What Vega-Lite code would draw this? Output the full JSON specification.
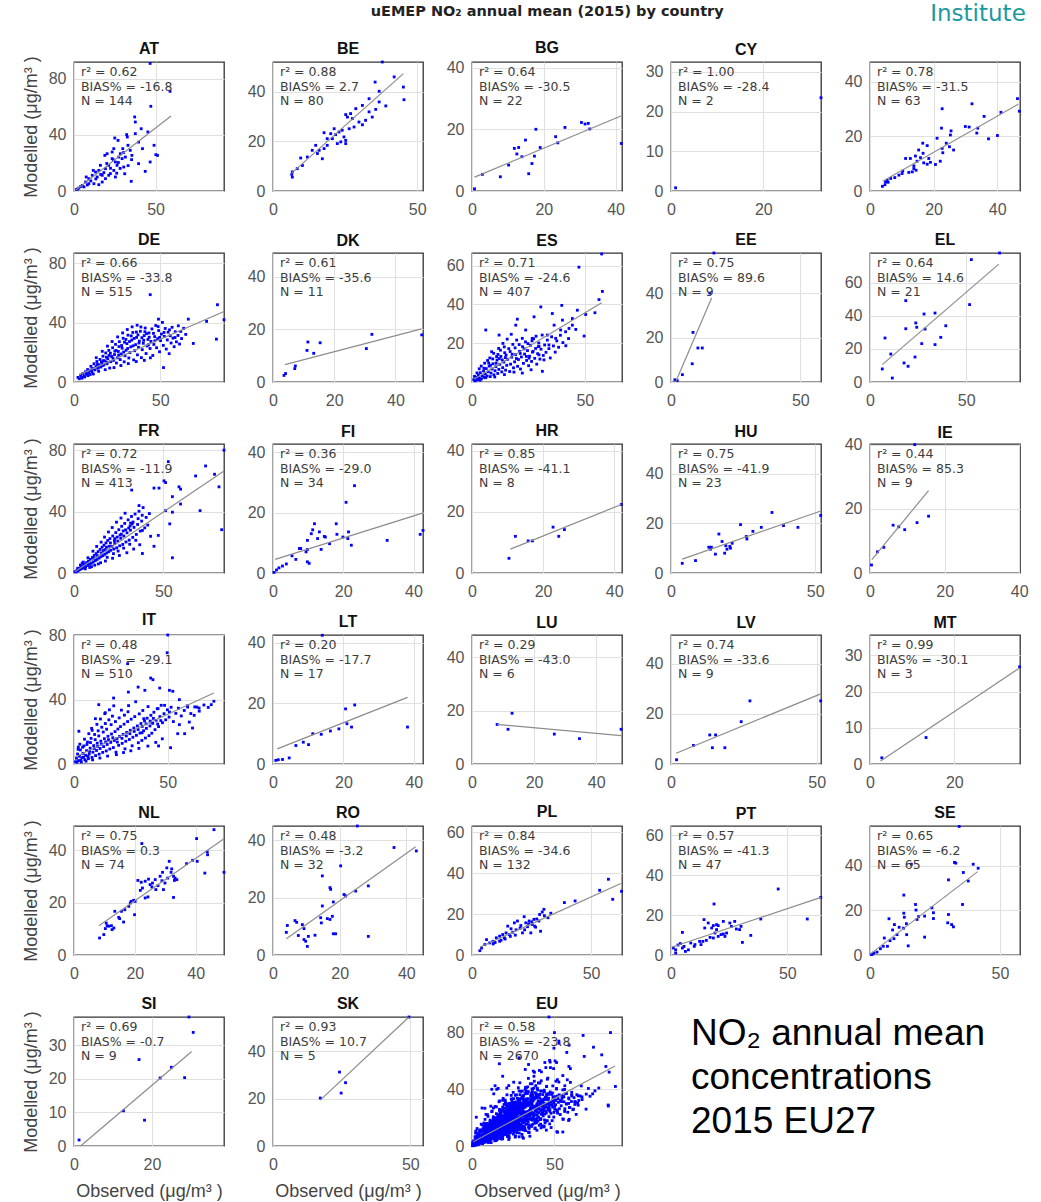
{
"$schema":"https://vega.github.io/schema/vega-lite/v6.json",
"padding":{"left":21,"top":2,"right":5,"bottom":2},
"title":{"text":"uEMEP NO₂ annual mean (2015) by country","fontSize":14.5,"fontWeight":"bold","anchor":"middle","font":"DejaVu Sans","color":"#222","offset":-17,"dx":22},
"datasets":{
"fit":[
{"c":"AT","x1":1,"y1":0.5,"x2":59.5,"y2":53.5,"lab":"r²  = 0.62\nBIAS% = -16.8\nN  = 144"},
{"c":"BE","x1":6.3,"y1":7,"x2":45.2,"y2":47.3,"lab":"r²  = 0.88\nBIAS% = 2.7\nN  = 80"},
{"c":"BG","x1":0.7,"y1":4.5,"x2":41.5,"y2":24.3,"lab":"r²  = 0.64\nBIAS% = -30.5\nN  = 22"},
{"c":"CY","lab":"r²  = 1.00\nBIAS% = -28.4\nN  = 2"},
{"c":"CZ","x1":4,"y1":3.6,"x2":46.7,"y2":31.8,"lab":"r²  = 0.78\nBIAS% = -31.5\nN  = 63"},
{"c":"DE","x1":3,"y1":5,"x2":87,"y2":47.5,"lab":"r²  = 0.66\nBIAS% = -33.8\nN  = 515"},
{"c":"DK","x1":3.9,"y1":6.6,"x2":48.5,"y2":20.2,"lab":"r²  = 0.61\nBIAS% = -35.6\nN  = 11"},
{"c":"ES","x1":1,"y1":1.5,"x2":57.5,"y2":40.8,"lab":"r²  = 0.71\nBIAS% = -24.6\nN  = 407"},
{"c":"EE","x1":1.8,"y1":0,"x2":15.7,"y2":37.8,"lab":"r²  = 0.75\nBIAS% = 89.6\nN  = 9"},
{"c":"EL","x1":6.4,"y1":10.5,"x2":67,"y2":71.3,"lab":"r²  = 0.64\nBIAS% = 14.6\nN  = 21"},
{"c":"FR","x1":0.5,"y1":0.8,"x2":84,"y2":66.4,"lab":"r²  = 0.72\nBIAS% = -11.9\nN  = 413"},
{"c":"FI","x1":0.6,"y1":4.5,"x2":43,"y2":20,"lab":"r²  = 0.36\nBIAS% = -29.0\nN  = 34"},
{"c":"HR","x1":10.8,"y1":7.8,"x2":42,"y2":22.4,"lab":"r²  = 0.85\nBIAS% = -41.1\nN  = 8"},
{"c":"HU","x1":3.9,"y1":5.6,"x2":51.7,"y2":24.9,"lab":"r²  = 0.75\nBIAS% = -41.9\nN  = 23"},
{"c":"IE","x1":0.5,"y1":4.2,"x2":15.7,"y2":25.7,"lab":"r²  = 0.44\nBIAS% = 85.3\nN  = 9"},
{"c":"IT","x1":0.5,"y1":4.3,"x2":74.6,"y2":44,"lab":"r²  = 0.48\nBIAS% = -29.1\nN  = 510"},
{"c":"LT","x1":1.2,"y1":5,"x2":38.2,"y2":22,"lab":"r²  = 0.20\nBIAS% = -17.7\nN  = 17"},
{"c":"LU","x1":8.1,"y1":14.8,"x2":48,"y2":10.6,"lab":"r²  = 0.29\nBIAS% = -43.0\nN  = 6"},
{"c":"LV","x1":1.8,"y1":4.3,"x2":51.4,"y2":28,"lab":"r²  = 0.74\nBIAS% = -33.6\nN  = 9"},
{"c":"MT","x1":2.5,"y1":0.8,"x2":35.5,"y2":26.5,"lab":"r²  = 0.99\nBIAS% = -30.1\nN  = 3"},
{"c":"NL","x1":8.2,"y1":11.2,"x2":49.3,"y2":44.4,"lab":"r²  = 0.75\nBIAS% = 0.3\nN  = 74"},
{"c":"RO","x1":4,"y1":5.7,"x2":42.8,"y2":37.8,"lab":"r²  = 0.48\nBIAS% = -3.2\nN  = 32"},
{"c":"PL","x1":3.3,"y1":3.8,"x2":62.5,"y2":34.9,"lab":"r²  = 0.84\nBIAS% = -34.6\nN  = 132"},
{"c":"PT","x1":0.3,"y1":3.9,"x2":64.5,"y2":28.8,"lab":"r²  = 0.57\nBIAS% = -41.3\nN  = 47"},
{"c":"SE","x1":0.2,"y1":0.5,"x2":41.4,"y2":37.3,"lab":"r²  = 0.65\nBIAS% = -6.2\nN  = 65"},
{"c":"SI","x1":1.7,"y1":0,"x2":30.2,"y2":28.2,"lab":"r²  = 0.69\nBIAS% = -0.7\nN  = 9"},
{"c":"SK","x1":17.2,"y1":19.4,"x2":49.4,"y2":54.5,"lab":"r²  = 0.93\nBIAS% = 10.7\nN  = 5"},
{"c":"EU","x1":0.8,"y1":3,"x2":86.8,"y2":56.4,"lab":"r²  = 0.58\nBIAS% = -23.8\nN  = 2670"}
],
"pts":[
{"c":"AT","o":46.7,"m":91},{"c":"AT","o":58.9,"m":71.1},{"c":"AT","o":47.1,"m":60.4},{"c":"AT","o":37.2,"m":52.8},{"c":"AT","o":37.6,"m":49.2},{"c":"AT","o":41.2,"m":44.4},{"c":"AT","o":45.3,"m":42.1},{"c":"AT","o":32.3,"m":40.2},{"c":"AT","o":32.7,"m":38.5},{"c":"AT","o":25,"m":37.8},{"c":"AT","o":27,"m":36.1},{"c":"AT","o":37.6,"m":40.9},{"c":"AT","o":39.6,"m":34.9},{"c":"AT","o":49.1,"m":32.6},{"c":"AT","o":42,"m":30.2},{"c":"AT","o":29.9,"m":30.2},{"c":"AT","o":24.4,"m":30.2},{"c":"AT","o":50.2,"m":25.9},{"c":"AT","o":51.2,"m":25.4},{"c":"AT","o":46.7,"m":20.7},{"c":"AT","o":39.6,"m":19.5},{"c":"AT","o":35.5,"m":25.4},{"c":"AT","o":30.5,"m":17.1},{"c":"AT","o":35.1,"m":6.9},{"c":"AT","o":43.7,"m":14},{"c":"AT","o":18.9,"m":25.4},{"c":"AT","o":20.3,"m":26.6},{"c":"AT","o":23.4,"m":23.1},{"c":"AT","o":25.4,"m":20.7},{"c":"AT","o":27.4,"m":24.2},{"c":"AT","o":21.3,"m":18.3},{"c":"AT","o":19.3,"m":15.9},{"c":"AT","o":15.2,"m":14.7},{"c":"AT","o":13.2,"m":13.5},{"c":"AT","o":17.3,"m":11.2},{"c":"AT","o":11.2,"m":11.2},{"c":"AT","o":9.1,"m":8.8},{"c":"AT","o":7.1,"m":6.4},{"c":"AT","o":5.1,"m":4},{"c":"AT","o":3,"m":2.1},{"c":"AT","o":1.4,"m":1},{"c":"AT","o":12.2,"m":5.2},{"c":"AT","o":15.2,"m":4.5},{"c":"AT","o":19.3,"m":8.8},{"c":"AT","o":22.3,"m":12.4},{"c":"AT","o":24.4,"m":14.7},{"c":"AT","o":26.4,"m":18.3},{"c":"AT","o":29.5,"m":23.1},{"c":"AT","o":28.4,"m":26.6},{"c":"AT","o":23.4,"m":27.8},{"c":"AT","o":14.2,"m":10},{"c":"AT","o":9.1,"m":5.2},{"c":"AT","o":6.1,"m":2.9},{"c":"AT","o":17.3,"m":6.4},{"c":"AT","o":21.3,"m":11.2},{"c":"AT","o":25.4,"m":10},{"c":"AT","o":31.5,"m":24.2},{"c":"AT","o":34.5,"m":29},{"c":"AT","o":16.2,"m":18.3},{"c":"AT","o":11.8,"m":14.7},{"c":"AT","o":7.5,"m":10},{"c":"AT","o":20.1,"m":19.6},{"c":"AT","o":22.4,"m":16.2},{"c":"AT","o":18.3,"m":13.1},{"c":"AT","o":16.4,"m":11.8},{"c":"AT","o":27.2,"m":20.3},{"c":"AT","o":30.4,"m":27.4},{"c":"AT","o":33.1,"m":32.6},{"c":"AT","o":28.3,"m":16.1},{"c":"AT","o":26.2,"m":12.7},{"c":"AT","o":24.1,"m":22.2},{"c":"AT","o":13.4,"m":8.6},{"c":"AT","o":10.3,"m":7.2},{"c":"AT","o":8.2,"m":4.3},{"c":"AT","o":4.1,"m":3.2},{"c":"AT","o":2.2,"m":1.4},{"c":"AT","o":35.3,"m":22.4},{"c":"AT","o":33.2,"m":18.1},{"c":"AT","o":31.1,"m":12.3},
{"c":"BE","o":37.9,"m":52},{"c":"BE","o":42,"m":46},{"c":"BE","o":45.2,"m":41.9},{"c":"BE","o":45.4,"m":36.8},{"c":"BE","o":35.4,"m":43.9},{"c":"BE","o":36.8,"m":40.2},{"c":"BE","o":39.1,"m":34.3},{"c":"BE","o":33.3,"m":37.2},{"c":"BE","o":31,"m":34.5},{"c":"BE","o":28.7,"m":33.2},{"c":"BE","o":26.9,"m":31.2},{"c":"BE","o":25.2,"m":30.8},{"c":"BE","o":25.8,"m":29.8},{"c":"BE","o":27.5,"m":29.2},{"c":"BE","o":29.8,"m":27.8},{"c":"BE","o":31,"m":26.7},{"c":"BE","o":28.1,"m":25.8},{"c":"BE","o":26.4,"m":25.1},{"c":"BE","o":24,"m":24.5},{"c":"BE","o":22.9,"m":23.8},{"c":"BE","o":21.7,"m":22.7},{"c":"BE","o":20,"m":23.1},{"c":"BE","o":17.7,"m":23.5},{"c":"BE","o":20.6,"m":21.1},{"c":"BE","o":24.6,"m":21.8},{"c":"BE","o":25.2,"m":20.4},{"c":"BE","o":23.5,"m":19.8},{"c":"BE","o":22.3,"m":19.1},{"c":"BE","o":25.2,"m":19.1},{"c":"BE","o":18.8,"m":18.4},{"c":"BE","o":17.7,"m":17.1},{"c":"BE","o":16,"m":16.4},{"c":"BE","o":14.8,"m":18.4},{"c":"BE","o":15.4,"m":15.1},{"c":"BE","o":13.6,"m":16.4},{"c":"BE","o":17.1,"m":13},{"c":"BE","o":11.9,"m":13.7},{"c":"BE","o":9.6,"m":13.3},{"c":"BE","o":10.2,"m":10.3},{"c":"BE","o":8.4,"m":9},{"c":"BE","o":6.7,"m":7.7},{"c":"BE","o":6.7,"m":5.6},{"c":"BE","o":6.5,"m":6.7},{"c":"BE","o":33.3,"m":31.9},{"c":"BE","o":34.4,"m":29.8},{"c":"BE","o":32.1,"m":28.5},{"c":"BE","o":35.6,"m":32.9},{"c":"BE","o":36.8,"m":35.9},{"c":"BE","o":21.2,"m":25.1},{"c":"BE","o":18.8,"m":21.1},
{"c":"BG","o":0.7,"m":0.7},{"c":"BG","o":2.9,"m":5.4},{"c":"BG","o":7.9,"m":4.6},{"c":"BG","o":10.2,"m":8.4},{"c":"BG","o":11.8,"m":13.8},{"c":"BG","o":12.5,"m":12},{"c":"BG","o":13,"m":14.1},{"c":"BG","o":14.9,"m":16.5},{"c":"BG","o":13.9,"m":11.1},{"c":"BG","o":16.7,"m":8.9},{"c":"BG","o":15.8,"m":5.6},{"c":"BG","o":17.4,"m":11.3},{"c":"BG","o":17.8,"m":20},{"c":"BG","o":19,"m":14.1},{"c":"BG","o":23.3,"m":17.6},{"c":"BG","o":23.9,"m":15.6},{"c":"BG","o":25.9,"m":20.6},{"c":"BG","o":30.5,"m":22.2},{"c":"BG","o":31.5,"m":21.7},{"c":"BG","o":32.4,"m":21.9},{"c":"BG","o":32.8,"m":20.1},{"c":"BG","o":41.6,"m":15.4},
{"c":"CY","o":1,"m":0.8},{"c":"CY","o":32.5,"m":23.5},
{"c":"CZ","o":46.4,"m":33.8},{"c":"CZ","o":47,"m":29.2},{"c":"CZ","o":41.2,"m":28.8},{"c":"CZ","o":35.9,"m":27.3},{"c":"CZ","o":32.1,"m":31.9},{"c":"CZ","o":31.2,"m":23.4},{"c":"CZ","o":33.6,"m":21.2},{"c":"CZ","o":33.9,"m":23},{"c":"CZ","o":37.3,"m":19.1},{"c":"CZ","o":40.1,"m":20.3},{"c":"CZ","o":22.7,"m":30.1},{"c":"CZ","o":22.5,"m":23},{"c":"CZ","o":25.5,"m":22},{"c":"CZ","o":25.3,"m":20.5},{"c":"CZ","o":21.1,"m":19.3},{"c":"CZ","o":22.7,"m":15.6},{"c":"CZ","o":22.9,"m":14},{"c":"CZ","o":24,"m":17.5},{"c":"CZ","o":25,"m":16.2},{"c":"CZ","o":26.3,"m":15},{"c":"CZ","o":22.1,"m":10.9},{"c":"CZ","o":20.6,"m":9.7},{"c":"CZ","o":18,"m":16.6},{"c":"CZ","o":16.6,"m":17.5},{"c":"CZ","o":15.3,"m":15},{"c":"CZ","o":14.3,"m":12.8},{"c":"CZ","o":15.9,"m":12.2},{"c":"CZ","o":16.7,"m":13.8},{"c":"CZ","o":12.7,"m":11.9},{"c":"CZ","o":11.2,"m":11.9},{"c":"CZ","o":14.8,"m":10.9},{"c":"CZ","o":16.9,"m":10.3},{"c":"CZ","o":18,"m":9.8},{"c":"CZ","o":19,"m":10.5},{"c":"CZ","o":13.8,"m":9.2},{"c":"CZ","o":14.5,"m":7.6},{"c":"CZ","o":13.3,"m":7},{"c":"CZ","o":12.2,"m":6.8},{"c":"CZ","o":10.1,"m":6.4},{"c":"CZ","o":9.1,"m":5.8},{"c":"CZ","o":10.3,"m":7.3},{"c":"CZ","o":7.8,"m":4.9},{"c":"CZ","o":6.5,"m":4.6},{"c":"CZ","o":5.4,"m":3.9},{"c":"CZ","o":4.9,"m":3.3},{"c":"CZ","o":5.7,"m":3.2},{"c":"CZ","o":4.7,"m":2.3},{"c":"CZ","o":3.9,"m":1.7},{"c":"CZ","o":13.8,"m":8.2},{"c":"CZ","o":18.5,"m":11.9},{"c":"CZ","o":30,"m":23.6},
{"c":"DE","o":44.2,"m":58.9},{"c":"DE","o":83.2,"m":52.1},{"c":"DE","o":87,"m":42},{"c":"DE","o":76.9,"m":40.9},{"c":"DE","o":82.6,"m":28.9},{"c":"DE","o":69.2,"m":26},{"c":"DE","o":60.5,"m":37.9},{"c":"DE","o":61.9,"m":34.1},{"c":"DE","o":58.6,"m":30},{"c":"DE","o":51.9,"m":9.7},{"c":"DE","o":66.3,"m":42.4},{"c":"DE","o":49,"m":42.4},
{"c":"DE","o":2.3,"m":3.1},{"c":"DE","o":3.1,"m":2.2},{"c":"DE","o":3.8,"m":4.6},{"c":"DE","o":4.4,"m":3.3},{"c":"DE","o":5.2,"m":5.8},{"c":"DE","o":5.9,"m":4.1},{"c":"DE","o":6.6,"m":6.9},{"c":"DE","o":7.3,"m":5.2},{"c":"DE","o":7.9,"m":8.4},{"c":"DE","o":8.5,"m":6.1},{"c":"DE","o":9.2,"m":7.7},{"c":"DE","o":9.8,"m":10.6},{"c":"DE","o":10.4,"m":6.8},{"c":"DE","o":10.9,"m":9.1},{"c":"DE","o":11.6,"m":12.3},{"c":"DE","o":12.2,"m":8.2},{"c":"DE","o":12.7,"m":10.4},{"c":"DE","o":13.3,"m":13.8},{"c":"DE","o":13.8,"m":9.3},{"c":"DE","o":14.5,"m":11.6},{"c":"DE","o":15.1,"m":15.2},{"c":"DE","o":15.6,"m":10.1},{"c":"DE","o":16.2,"m":12.9},{"c":"DE","o":16.8,"m":17.4},{"c":"DE","o":17.3,"m":11.5},{"c":"DE","o":17.9,"m":14.2},{"c":"DE","o":18.4,"m":19.6},{"c":"DE","o":19.1,"m":12.3},{"c":"DE","o":19.6,"m":15.8},{"c":"DE","o":20.2,"m":21.3},{"c":"DE","o":20.7,"m":9.4},{"c":"DE","o":21.3,"m":13.7},{"c":"DE","o":21.8,"m":17.2},{"c":"DE","o":22.4,"m":23.1},{"c":"DE","o":22.9,"m":14.6},{"c":"DE","o":23.5,"m":18.5},{"c":"DE","o":24.1,"m":25.4},{"c":"DE","o":24.6,"m":12.8},{"c":"DE","o":25.2,"m":16.3},{"c":"DE","o":25.7,"m":20.6},{"c":"DE","o":26.3,"m":27.2},{"c":"DE","o":26.8,"m":15.1},{"c":"DE","o":27.4,"m":18.9},{"c":"DE","o":27.9,"m":22.8},{"c":"DE","o":28.5,"m":29.5},{"c":"DE","o":29.1,"m":13.6},{"c":"DE","o":29.6,"m":17.7},{"c":"DE","o":30.2,"m":21.4},{"c":"DE","o":30.7,"m":25.9},{"c":"DE","o":31.3,"m":31.6},{"c":"DE","o":31.8,"m":16.2},{"c":"DE","o":32.4,"m":19.8},{"c":"DE","o":32.9,"m":23.7},{"c":"DE","o":33.5,"m":28.3},{"c":"DE","o":34.1,"m":33.4},{"c":"DE","o":34.6,"m":14.9},{"c":"DE","o":35.2,"m":21.1},{"c":"DE","o":35.7,"m":25.2},{"c":"DE","o":36.3,"m":30.1},{"c":"DE","o":36.8,"m":18.3},{"c":"DE","o":37.4,"m":23.4},{"c":"DE","o":37.9,"m":27.6},{"c":"DE","o":38.5,"m":34.2},{"c":"DE","o":39.1,"m":16.4},{"c":"DE","o":39.6,"m":21.8},{"c":"DE","o":40.2,"m":26.1},{"c":"DE","o":40.7,"m":31.3},{"c":"DE","o":41.3,"m":36.4},{"c":"DE","o":41.8,"m":19.2},{"c":"DE","o":42.4,"m":24.3},{"c":"DE","o":42.9,"m":28.7},{"c":"DE","o":43.5,"m":33.1},{"c":"DE","o":44.1,"m":22.6},{"c":"DE","o":44.6,"m":27.4},{"c":"DE","o":45.2,"m":35.8},{"c":"DE","o":45.7,"m":17.9},{"c":"DE","o":46.3,"m":25.3},{"c":"DE","o":46.8,"m":30.6},{"c":"DE","o":47.4,"m":38.1},{"c":"DE","o":47.9,"m":23.1},{"c":"DE","o":48.5,"m":29.2},{"c":"DE","o":49.1,"m":34.7},{"c":"DE","o":49.6,"m":20.4},{"c":"DE","o":50.2,"m":27.9},{"c":"DE","o":50.7,"m":32.3},{"c":"DE","o":51.3,"m":40.2},{"c":"DE","o":51.8,"m":24.7},{"c":"DE","o":52.4,"m":30.8},{"c":"DE","o":52.9,"m":36.1},{"c":"DE","o":53.5,"m":22.2},{"c":"DE","o":54.1,"m":28.4},{"c":"DE","o":54.6,"m":33.6},{"c":"DE","o":55.2,"m":19.1},{"c":"DE","o":55.8,"m":31.2},{"c":"DE","o":56.3,"m":26.3},{"c":"DE","o":56.9,"m":36.9},{"c":"DE","o":57.4,"m":29.6},{"c":"DE","o":58.1,"m":23.8},{"c":"DE","o":58.7,"m":33.9},{"c":"DE","o":59.4,"m":27.1},{"c":"DE","o":60.3,"m":31.4},{"c":"DE","o":61.2,"m":25.6},{"c":"DE","o":62.4,"m":29.3},{"c":"DE","o":63.6,"m":36.2},{"c":"DE","o":64.8,"m":32.1},{"c":"DE","o":8.1,"m":4.3},{"c":"DE","o":11.2,"m":5.4},{"c":"DE","o":14.3,"m":7.2},{"c":"DE","o":18.1,"m":8.3},{"c":"DE","o":23.2,"m":9.7},{"c":"DE","o":27.2,"m":11.1},{"c":"DE","o":31.5,"m":12.4},{"c":"DE","o":36.1,"m":13.8},{"c":"DE","o":40.8,"m":14.6},{"c":"DE","o":44.3,"m":16.3},{"c":"DE","o":12.9,"m":16.4},{"c":"DE","o":16.4,"m":20.7},{"c":"DE","o":19.4,"m":24.2},{"c":"DE","o":22.1,"m":27.3},{"c":"DE","o":25.3,"m":30.4},{"c":"DE","o":28.2,"m":33.1},{"c":"DE","o":30.9,"m":35.4},{"c":"DE","o":33.7,"m":37.2},{"c":"DE","o":36.6,"m":38.3},{"c":"DE","o":6.2,"m":3.4},{"c":"DE","o":9.4,"m":5.1},{"c":"DE","o":4.7,"m":2.6},{"c":"DE","o":15.9,"m":13.6},{"c":"DE","o":18.8,"m":16.7},{"c":"DE","o":21.1,"m":19.4},{"c":"DE","o":24.4,"m":21.3},{"c":"DE","o":26.1,"m":23.9},{"c":"DE","o":29.3,"m":26.8},{"c":"DE","o":32.2,"m":27.3},{"c":"DE","o":34.9,"m":29.4},{"c":"DE","o":37.1,"m":31.8},{"c":"DE","o":39.4,"m":29.9},{"c":"DE","o":42.1,"m":32.6},{"c":"DE","o":20.3,"m":17.9},{"c":"DE","o":17.1,"m":14.4},{"c":"DE","o":13.6,"m":11.8},{"c":"DE","o":10.3,"m":8.3},{"c":"DE","o":7.1,"m":6.1},{"c":"DE","o":23.7,"m":20.8},{"c":"DE","o":27.6,"m":24.6},{"c":"DE","o":30.1,"m":28.7},{"c":"DE","o":33.2,"m":31.1},{"c":"DE","o":36.2,"m":33.7},{"c":"DE","o":38.8,"m":37.1},{"c":"DE","o":41.1,"m":33.9},{"c":"DE","o":43.6,"m":30.2},{"c":"DE","o":46.1,"m":32.8},{"c":"DE","o":48.8,"m":37.4},{"c":"DE","o":14.1,"m":9.8},{"c":"DE","o":16.6,"m":11.2},{"c":"DE","o":19.3,"m":13.4},{"c":"DE","o":22.6,"m":16.1},{"c":"DE","o":25.9,"m":18.2},{"c":"DE","o":28.8,"m":20.2},{"c":"DE","o":31.1,"m":22.6},{"c":"DE","o":34.3,"m":24.4},{"c":"DE","o":37.7,"m":26.3},{"c":"DE","o":40.4,"m":28.1},{"c":"DE","o":43.2,"m":25.1},{"c":"DE","o":46.9,"m":27.8},{"c":"DE","o":49.7,"m":30.1},{"c":"DE","o":52.2,"m":33.4},{"c":"DE","o":55.4,"m":35.2},
{"c":"DK","o":3.6,"m":2.5},{"c":"DK","o":4.1,"m":3.2},{"c":"DK","o":7.1,"m":5.1},{"c":"DK","o":7.3,"m":6.1},{"c":"DK","o":11.1,"m":12},{"c":"DK","o":11.4,"m":15.2},{"c":"DK","o":13.3,"m":10.9},{"c":"DK","o":15.4,"m":14.9},{"c":"DK","o":30.5,"m":12.7},{"c":"DK","o":32.3,"m":18.1},{"c":"DK","o":48.6,"m":17.9},
{"c":"ES","o":57.5,"m":66},{"c":"ES","o":47.4,"m":59.2},{"c":"ES","o":57.8,"m":46.7},{"c":"ES","o":56.3,"m":42.5},{"c":"ES","o":30.5,"m":38.7},{"c":"ES","o":39.8,"m":39.5},{"c":"ES","o":46.7,"m":37},{"c":"ES","o":50.4,"m":34.8},{"c":"ES","o":54.5,"m":35.7},{"c":"ES","o":49.7,"m":23.7},{"c":"ES","o":31.2,"m":5.5},{"c":"ES","o":27.5,"m":33.6},{"c":"ES","o":35.6,"m":35.3},{"c":"ES","o":43,"m":27.6},{"c":"ES","o":44.5,"m":29.3},{"c":"ES","o":41.5,"m":25.9},{"c":"ES","o":37.1,"m":22.5},{"c":"ES","o":34.1,"m":19.1},{"c":"ES","o":31.9,"m":11.4},{"c":"ES","o":29.7,"m":14},{"c":"ES","o":25.3,"m":12.3},{"c":"ES","o":39.3,"m":26.8},{"c":"ES","o":46,"m":27.1},{"c":"ES","o":44.5,"m":32.7},{"c":"ES","o":23.8,"m":26.8},{"c":"ES","o":22.3,"m":22.5},{"c":"ES","o":26.7,"m":22.5},{"c":"ES","o":29.7,"m":18.3},{"c":"ES","o":33.4,"m":24.2},{"c":"ES","o":36.4,"m":29.3},{"c":"ES","o":40.1,"m":31.9},{"c":"ES","o":6.1,"m":26.8},{"c":"ES","o":12,"m":24.2},{"c":"ES","o":19.4,"m":29.3},{"c":"ES","o":20.1,"m":32.4},
{"c":"ES","o":0.8,"m":1.2},{"c":"ES","o":1.4,"m":0.6},{"c":"ES","o":1.9,"m":2.4},{"c":"ES","o":2.5,"m":1.3},{"c":"ES","o":2.8,"m":3.6},{"c":"ES","o":3.3,"m":2.1},{"c":"ES","o":3.7,"m":4.8},{"c":"ES","o":4.2,"m":1.6},{"c":"ES","o":4.6,"m":3.2},{"c":"ES","o":5.1,"m":5.7},{"c":"ES","o":5.4,"m":2.4},{"c":"ES","o":5.9,"m":4.1},{"c":"ES","o":6.3,"m":6.9},{"c":"ES","o":6.7,"m":3.1},{"c":"ES","o":7.2,"m":5.3},{"c":"ES","o":7.6,"m":8.2},{"c":"ES","o":8.1,"m":2.8},{"c":"ES","o":8.4,"m":4.6},{"c":"ES","o":8.9,"m":6.7},{"c":"ES","o":9.3,"m":9.4},{"c":"ES","o":9.7,"m":3.7},{"c":"ES","o":10.2,"m":5.8},{"c":"ES","o":10.6,"m":7.9},{"c":"ES","o":11.1,"m":11.3},{"c":"ES","o":11.4,"m":4.4},{"c":"ES","o":11.9,"m":6.5},{"c":"ES","o":12.3,"m":9.1},{"c":"ES","o":12.8,"m":13.2},{"c":"ES","o":13.2,"m":5.2},{"c":"ES","o":13.6,"m":7.4},{"c":"ES","o":14.1,"m":10.3},{"c":"ES","o":14.5,"m":15.1},{"c":"ES","o":14.9,"m":6.1},{"c":"ES","o":15.4,"m":8.6},{"c":"ES","o":15.8,"m":11.7},{"c":"ES","o":16.3,"m":17.2},{"c":"ES","o":16.7,"m":5.4},{"c":"ES","o":17.1,"m":9.2},{"c":"ES","o":17.6,"m":12.8},{"c":"ES","o":18.1,"m":19.4},{"c":"ES","o":18.4,"m":7.3},{"c":"ES","o":18.9,"m":10.4},{"c":"ES","o":19.3,"m":14.1},{"c":"ES","o":19.8,"m":21.6},{"c":"ES","o":20.2,"m":8.1},{"c":"ES","o":20.6,"m":11.6},{"c":"ES","o":21.1,"m":15.8},{"c":"ES","o":21.5,"m":6.7},{"c":"ES","o":21.9,"m":12.9},{"c":"ES","o":22.4,"m":18.2},{"c":"ES","o":22.8,"m":9.6},{"c":"ES","o":23.3,"m":14.4},{"c":"ES","o":23.7,"m":20.7},{"c":"ES","o":24.2,"m":11.1},{"c":"ES","o":24.6,"m":16.2},{"c":"ES","o":25.1,"m":8.4},{"c":"ES","o":25.5,"m":13.3},{"c":"ES","o":25.9,"m":18.9},{"c":"ES","o":26.4,"m":10.6},{"c":"ES","o":26.8,"m":15.4},{"c":"ES","o":27.3,"m":22.3},{"c":"ES","o":27.8,"m":12.2},{"c":"ES","o":28.2,"m":17.3},{"c":"ES","o":28.7,"m":9.2},{"c":"ES","o":29.1,"m":14.6},{"c":"ES","o":29.6,"m":20.1},{"c":"ES","o":30.1,"m":11.8},{"c":"ES","o":30.6,"m":16.9},{"c":"ES","o":31.1,"m":24.2},{"c":"ES","o":31.6,"m":13.7},{"c":"ES","o":32.2,"m":19.1},{"c":"ES","o":32.8,"m":15.3},{"c":"ES","o":33.4,"m":21.6},{"c":"ES","o":34.1,"m":17.2},{"c":"ES","o":34.7,"m":12.4},{"c":"ES","o":35.3,"m":23.3},{"c":"ES","o":36.1,"m":18.6},{"c":"ES","o":36.9,"m":15.4},{"c":"ES","o":37.6,"m":21.2},{"c":"ES","o":38.4,"m":17.9},{"c":"ES","o":39.2,"m":24.1},{"c":"ES","o":40.3,"m":20.3},{"c":"ES","o":41.6,"m":18.7},{"c":"ES","o":42.8,"m":22.4},{"c":"ES","o":3.2,"m":6.8},{"c":"ES","o":5.6,"m":9.7},{"c":"ES","o":7.9,"m":12.4},{"c":"ES","o":9.6,"m":14.8},{"c":"ES","o":11.8,"m":17.3},{"c":"ES","o":13.7,"m":19.9},{"c":"ES","o":15.6,"m":22.1},{"c":"ES","o":17.4,"m":24.6},{"c":"ES","o":4.1,"m":8.2},{"c":"ES","o":6.9,"m":11.1},{"c":"ES","o":8.7,"m":15.6},{"c":"ES","o":10.9,"m":13.1},{"c":"ES","o":12.6,"m":16.4},{"c":"ES","o":14.3,"m":18.1},{"c":"ES","o":2.2,"m":4.7},{"c":"ES","o":6.1,"m":2.2},{"c":"ES","o":10.1,"m":2.6},{"c":"ES","o":14.4,"m":3.8},{"c":"ES","o":18.6,"m":5.1},{"c":"ES","o":22.3,"m":4.6},{"c":"ES","o":26.2,"m":6.3},{"c":"ES","o":7.4,"m":9.8},{"c":"ES","o":9.2,"m":11.9},{"c":"ES","o":11.5,"m":14.2},{"c":"ES","o":13.4,"m":11.4},{"c":"ES","o":15.1,"m":13.9},{"c":"ES","o":16.9,"m":15.7},{"c":"ES","o":19.1,"m":17.6},{"c":"ES","o":20.9,"m":19.3},{"c":"ES","o":23.1,"m":17.1},{"c":"ES","o":24.8,"m":19.8},{"c":"ES","o":26.6,"m":21.2},{"c":"ES","o":28.4,"m":23.6},{"c":"ES","o":5.3,"m":7.1},{"c":"ES","o":8.2,"m":8.6},{"c":"ES","o":10.7,"m":9.7},{"c":"ES","o":12.1,"m":12.1},{"c":"ES","o":14.8,"m":12.6},{"c":"ES","o":17.8,"m":14.3},{"c":"ES","o":19.7,"m":12.1},{"c":"ES","o":21.4,"m":14.7},{"c":"ES","o":24.1,"m":13.2},{"c":"ES","o":27.1,"m":15.8},{"c":"ES","o":29.4,"m":18.2},{"c":"ES","o":1.1,"m":2.9},{"c":"ES","o":2.1,"m":1.1},{"c":"ES","o":3.6,"m":0.9},
{"c":"EE","o":1.5,"m":1},{"c":"EE","o":2.4,"m":0.6},{"c":"EE","o":4.4,"m":3.3},{"c":"EE","o":8.2,"m":8.2},{"c":"EE","o":8.5,"m":22.3},{"c":"EE","o":10.4,"m":15.3},{"c":"EE","o":12.1,"m":15.3},{"c":"EE","o":16.6,"m":58},{"c":"EE","o":15,"m":40},
{"c":"EL","o":67.4,"m":78},{"c":"EL","o":52.7,"m":74},{"c":"EL","o":51.8,"m":46.8},{"c":"EL","o":33.8,"m":41.7},{"c":"EL","o":28.1,"m":41.1},{"c":"EL","o":18.6,"m":49.2},{"c":"EL","o":23.8,"m":35.7},{"c":"EL","o":24.3,"m":33.1},{"c":"EL","o":18.6,"m":32.2},{"c":"EL","o":28.6,"m":32},{"c":"EL","o":39.4,"m":34},{"c":"EL","o":26.9,"m":23.2},{"c":"EL","o":33.8,"m":22.6},{"c":"EL","o":36.8,"m":27},{"c":"EL","o":23.4,"m":15.1},{"c":"EL","o":17.7,"m":11.5},{"c":"EL","o":19.8,"m":9.5},{"c":"EL","o":7.8,"m":26.6},{"c":"EL","o":10.8,"m":16.9},{"c":"EL","o":6.4,"m":7.9},{"c":"EL","o":11.6,"m":2.4},
{"c":"FR","o":84,"m":80},{"c":"FR","o":82.7,"m":28.2},{"c":"FR","o":81.2,"m":56.1},{"c":"FR","o":78.7,"m":64.3},{"c":"FR","o":73.7,"m":69.7},{"c":"FR","o":68.1,"m":63.2},{"c":"FR","o":70.6,"m":40.6},{"c":"FR","o":55.1,"m":9.9},{"c":"FR","o":53.6,"m":32},{"c":"FR","o":59.7,"m":44.9},{"c":"FR","o":51.3,"m":58.9},{"c":"FR","o":50.4,"m":60},{"c":"FR","o":52.8,"m":72.5},{"c":"FR","o":44.8,"m":55.3},{"c":"FR","o":47.6,"m":55.3},{"c":"FR","o":58.8,"m":56.1},{"c":"FR","o":59.7,"m":54.6},{"c":"FR","o":55.1,"m":49.7},{"c":"FR","o":51.3,"m":40.6},{"c":"FR","o":55.1,"m":39.6},{"c":"FR","o":47.2,"m":24.5},{"c":"FR","o":44.8,"m":17.4},{"c":"FR","o":38.3,"m":12.7},{"c":"FR","o":42.9,"m":23.9},{"c":"FR","o":32.3,"m":54},{"c":"FR","o":36.4,"m":43.9},{"c":"FR","o":31.7,"m":32.5},{"c":"FR","o":38.3,"m":27.7},
{"c":"FR","o":0.6,"m":0.9},{"c":"FR","o":1.2,"m":0.7},{"c":"FR","o":1.7,"m":1.9},{"c":"FR","o":2.3,"m":1.4},{"c":"FR","o":2.8,"m":2.9},{"c":"FR","o":3.3,"m":2.2},{"c":"FR","o":3.9,"m":3.8},{"c":"FR","o":4.4,"m":2.9},{"c":"FR","o":4.9,"m":4.7},{"c":"FR","o":5.4,"m":3.4},{"c":"FR","o":5.9,"m":5.6},{"c":"FR","o":6.5,"m":4.1},{"c":"FR","o":7.1,"m":6.8},{"c":"FR","o":7.6,"m":4.9},{"c":"FR","o":8.1,"m":7.7},{"c":"FR","o":8.6,"m":5.6},{"c":"FR","o":9.2,"m":8.9},{"c":"FR","o":9.7,"m":6.3},{"c":"FR","o":10.3,"m":10.1},{"c":"FR","o":10.8,"m":7.2},{"c":"FR","o":11.3,"m":11.4},{"c":"FR","o":11.9,"m":8.1},{"c":"FR","o":12.4,"m":12.6},{"c":"FR","o":12.9,"m":8.8},{"c":"FR","o":13.5,"m":13.9},{"c":"FR","o":14.1,"m":9.7},{"c":"FR","o":14.6,"m":15.3},{"c":"FR","o":15.1,"m":10.6},{"c":"FR","o":15.7,"m":16.8},{"c":"FR","o":16.2,"m":11.3},{"c":"FR","o":16.8,"m":18.1},{"c":"FR","o":17.3,"m":12.2},{"c":"FR","o":17.9,"m":19.6},{"c":"FR","o":18.4,"m":13.1},{"c":"FR","o":18.9,"m":21.2},{"c":"FR","o":19.5,"m":13.9},{"c":"FR","o":20.1,"m":22.4},{"c":"FR","o":20.6,"m":14.8},{"c":"FR","o":21.2,"m":17.3},{"c":"FR","o":21.7,"m":24.1},{"c":"FR","o":22.3,"m":15.6},{"c":"FR","o":22.8,"m":19.2},{"c":"FR","o":23.4,"m":26.3},{"c":"FR","o":23.9,"m":16.4},{"c":"FR","o":24.5,"m":20.8},{"c":"FR","o":25.1,"m":28.2},{"c":"FR","o":25.6,"m":17.7},{"c":"FR","o":26.2,"m":22.6},{"c":"FR","o":26.7,"m":30.4},{"c":"FR","o":27.3,"m":18.6},{"c":"FR","o":27.9,"m":24.1},{"c":"FR","o":28.4,"m":32.3},{"c":"FR","o":29.1,"m":20.2},{"c":"FR","o":29.7,"m":26.2},{"c":"FR","o":30.3,"m":34.6},{"c":"FR","o":30.9,"m":21.4},{"c":"FR","o":31.6,"m":27.9},{"c":"FR","o":32.2,"m":36.8},{"c":"FR","o":32.9,"m":23.2},{"c":"FR","o":33.6,"m":29.7},{"c":"FR","o":34.2,"m":38.4},{"c":"FR","o":34.9,"m":25.1},{"c":"FR","o":35.6,"m":31.6},{"c":"FR","o":36.4,"m":40.2},{"c":"FR","o":37.1,"m":27.3},{"c":"FR","o":37.9,"m":33.8},{"c":"FR","o":38.7,"m":42.6},{"c":"FR","o":39.6,"m":29.4},{"c":"FR","o":40.4,"m":36.2},{"c":"FR","o":41.3,"m":31.2},{"c":"FR","o":42.2,"m":38.7},{"c":"FR","o":9.8,"m":4.1},{"c":"FR","o":13.6,"m":5.9},{"c":"FR","o":17.6,"m":7.8},{"c":"FR","o":21.6,"m":9.6},{"c":"FR","o":25.4,"m":11.4},{"c":"FR","o":29.6,"m":13.2},{"c":"FR","o":33.4,"m":15.6},{"c":"FR","o":36.8,"m":18.4},{"c":"FR","o":10.6,"m":14.2},{"c":"FR","o":12.7,"m":17.3},{"c":"FR","o":15.2,"m":20.1},{"c":"FR","o":17.1,"m":23.4},{"c":"FR","o":19.3,"m":26.7},{"c":"FR","o":21.4,"m":29.6},{"c":"FR","o":23.8,"m":33.1},{"c":"FR","o":26.3,"m":35.8},{"c":"FR","o":28.6,"m":38.9},{"c":"FR","o":5.2,"m":7.1},{"c":"FR","o":7.8,"m":9.9},{"c":"FR","o":6.3,"m":2.7},{"c":"FR","o":8.8,"m":3.6},{"c":"FR","o":11.6,"m":5.1},{"c":"FR","o":14.9,"m":6.7},{"c":"FR","o":18.6,"m":10.2},{"c":"FR","o":22.1,"m":12.6},{"c":"FR","o":24.7,"m":14.3},{"c":"FR","o":27.8,"m":16.2},{"c":"FR","o":31.2,"m":18.7},{"c":"FR","o":34.6,"m":21.3},{"c":"FR","o":11.1,"m":9.4},{"c":"FR","o":13.1,"m":11.2},{"c":"FR","o":15.4,"m":13.1},{"c":"FR","o":17.5,"m":15.2},{"c":"FR","o":19.8,"m":17.4},{"c":"FR","o":22.6,"m":21.1},{"c":"FR","o":24.2,"m":23.4},{"c":"FR","o":26.5,"m":25.3},{"c":"FR","o":28.9,"m":28.1},{"c":"FR","o":31.4,"m":30.6},{"c":"FR","o":33.1,"m":33.2},{"c":"FR","o":35.9,"m":35.4},{"c":"FR","o":38.2,"m":37.6},{"c":"FR","o":16.5,"m":14.6},{"c":"FR","o":18.2,"m":16.8},{"c":"FR","o":20.4,"m":19.6},{"c":"FR","o":22.9,"m":22.4},{"c":"FR","o":25.8,"m":24.7},{"c":"FR","o":27.6,"m":27.4},{"c":"FR","o":30.6,"m":29.3},{"c":"FR","o":32.6,"m":31.9},{"c":"FR","o":3.6,"m":5.2},{"c":"FR","o":2.1,"m":3.1},{"c":"FR","o":4.6,"m":6.4},
{"c":"FI","o":0.3,"m":0.2},{"c":"FI","o":1,"m":1},{"c":"FI","o":1.7,"m":1.7},{"c":"FI","o":2.7,"m":2.3},{"c":"FI","o":3.8,"m":3},{"c":"FI","o":5.4,"m":5.7},{"c":"FI","o":7.5,"m":8.1},{"c":"FI","o":7.9,"m":8.1},{"c":"FI","o":9.8,"m":7.8},{"c":"FI","o":9.4,"m":7},{"c":"FI","o":9.8,"m":3.7},{"c":"FI","o":10.3,"m":3.2},{"c":"FI","o":9.8,"m":10.8},{"c":"FI","o":10.9,"m":13},{"c":"FI","o":11.3,"m":14.3},{"c":"FI","o":11.8,"m":16.3},{"c":"FI","o":13.2,"m":13.6},{"c":"FI","o":14.6,"m":12.1},{"c":"FI","o":14.9,"m":11.9},{"c":"FI","o":13.7,"m":7.8},{"c":"FI","o":16.1,"m":9.7},{"c":"FI","o":18,"m":16.3},{"c":"FI","o":18.2,"m":12.8},{"c":"FI","o":20.8,"m":23.4},{"c":"FI","o":21.3,"m":11.4},{"c":"FI","o":21.5,"m":13.6},{"c":"FI","o":22.3,"m":9.2},{"c":"FI","o":23.2,"m":28.9},{"c":"FI","o":32.5,"m":10.8},{"c":"FI","o":41.9,"m":12.8},{"c":"FI","o":42.7,"m":14.1},{"c":"FI","o":19.9,"m":11.9},{"c":"FI","o":12.7,"m":11.4},{"c":"FI","o":6.5,"m":4.5},
{"c":"HR","o":10.4,"m":4.8},{"c":"HR","o":12.2,"m":12},{"c":"HR","o":15.8,"m":10.5},{"c":"HR","o":17,"m":10.5},{"c":"HR","o":22.8,"m":15},{"c":"HR","o":24.4,"m":12},{"c":"HR","o":26,"m":14.2},{"c":"HR","o":42,"m":22.4},
{"c":"HU","o":3.9,"m":3.9},{"c":"HU","o":8.5,"m":5},{"c":"HU","o":13.1,"m":10.4},{"c":"HU","o":14,"m":10.4},{"c":"HU","o":15.4,"m":7.6},{"c":"HU","o":16.6,"m":15.7},{"c":"HU","o":17.7,"m":12.7},{"c":"HU","o":18.6,"m":8},{"c":"HU","o":19.4,"m":9.6},{"c":"HU","o":20.6,"m":10},{"c":"HU","o":21.2,"m":12},{"c":"HU","o":24.1,"m":19.5},{"c":"HU","o":26.1,"m":14.7},{"c":"HU","o":26.3,"m":13.7},{"c":"HU","o":28.4,"m":16.8},{"c":"HU","o":31.3,"m":18.4},{"c":"HU","o":35,"m":24.4},{"c":"HU","o":39,"m":19.1},{"c":"HU","o":44,"m":18.4},{"c":"HU","o":51.9,"m":23.2},{"c":"HU","o":13.7,"m":9.6},{"c":"HU","o":20.4,"m":10.7},{"c":"HU","o":19,"m":11},
{"c":"IE","o":0.4,"m":2.5},{"c":"IE","o":2,"m":6.6},{"c":"IE","o":3.7,"m":8},{"c":"IE","o":6.2,"m":14.9},{"c":"IE","o":7.7,"m":14.4},{"c":"IE","o":9.3,"m":13.5},{"c":"IE","o":12.6,"m":15.7},{"c":"IE","o":15.7,"m":17.7},{"c":"IE","o":12,"m":40},
{"c":"IT","o":50,"m":80},{"c":"IT","o":49.7,"m":69},{"c":"IT","o":40.9,"m":53.3},{"c":"IT","o":42.1,"m":52.3},{"c":"IT","o":28.6,"m":62.2},{"c":"IT","o":29,"m":44.6},{"c":"IT","o":21.1,"m":40.9},{"c":"IT","o":34.2,"m":47.7},{"c":"IT","o":37.8,"m":45.7},{"c":"IT","o":45.7,"m":47.1},{"c":"IT","o":50.9,"m":45.7},{"c":"IT","o":52.7,"m":45.1},{"c":"IT","o":56.2,"m":39.9},{"c":"IT","o":65.5,"m":35.3},{"c":"IT","o":66.7,"m":34.7},{"c":"IT","o":74.6,"m":38.9},{"c":"IT","o":60.6,"m":35.3},{"c":"IT","o":64.1,"m":30.2},{"c":"IT","o":61.5,"m":26},{"c":"IT","o":63.2,"m":22.3},{"c":"IT","o":56.2,"m":24.4},{"c":"IT","o":59,"m":18.8},{"c":"IT","o":55.3,"m":18.8},{"c":"IT","o":51.5,"m":10.1},{"c":"IT","o":45.1,"m":11.2},{"c":"IT","o":40.9,"m":26},{"c":"IT","o":36.3,"m":19.4},{"c":"IT","o":37.2,"m":28.1},{"c":"IT","o":44.8,"m":34.3},{"c":"IT","o":48.3,"m":36.4},{"c":"IT","o":50.9,"m":32.2},{"c":"IT","o":13.2,"m":36.8},{"c":"IT","o":16.7,"m":31.8},{"c":"IT","o":11.4,"m":28.1},{"c":"IT","o":9.7,"m":20.9},{"c":"IT","o":2.6,"m":20.3},{"c":"IT","o":2.3,"m":10.5},
{"c":"IT","o":0.8,"m":1.4},{"c":"IT","o":1.3,"m":3.6},{"c":"IT","o":1.9,"m":6.2},{"c":"IT","o":2.4,"m":2.1},{"c":"IT","o":2.9,"m":4.8},{"c":"IT","o":3.4,"m":8.7},{"c":"IT","o":3.9,"m":1.3},{"c":"IT","o":4.3,"m":3.9},{"c":"IT","o":4.8,"m":6.6},{"c":"IT","o":5.3,"m":11.2},{"c":"IT","o":5.8,"m":2.7},{"c":"IT","o":6.2,"m":5.4},{"c":"IT","o":6.7,"m":8.3},{"c":"IT","o":7.2,"m":13.6},{"c":"IT","o":7.7,"m":3.3},{"c":"IT","o":8.1,"m":6.2},{"c":"IT","o":8.6,"m":9.8},{"c":"IT","o":9.1,"m":15.9},{"c":"IT","o":9.6,"m":4.1},{"c":"IT","o":10.1,"m":7.3},{"c":"IT","o":10.5,"m":11.4},{"c":"IT","o":11,"m":18.3},{"c":"IT","o":11.5,"m":5.2},{"c":"IT","o":12,"m":8.4},{"c":"IT","o":12.4,"m":12.9},{"c":"IT","o":12.9,"m":20.6},{"c":"IT","o":13.4,"m":6.1},{"c":"IT","o":13.9,"m":9.6},{"c":"IT","o":14.3,"m":14.2},{"c":"IT","o":14.8,"m":22.8},{"c":"IT","o":15.3,"m":7.2},{"c":"IT","o":15.8,"m":10.8},{"c":"IT","o":16.2,"m":15.7},{"c":"IT","o":16.7,"m":25.1},{"c":"IT","o":17.2,"m":8.1},{"c":"IT","o":17.7,"m":12.1},{"c":"IT","o":18.1,"m":17.2},{"c":"IT","o":18.6,"m":27.4},{"c":"IT","o":19.1,"m":9.3},{"c":"IT","o":19.6,"m":13.4},{"c":"IT","o":20,"m":18.6},{"c":"IT","o":20.5,"m":29.7},{"c":"IT","o":21,"m":10.2},{"c":"IT","o":21.5,"m":14.6},{"c":"IT","o":21.9,"m":20.1},{"c":"IT","o":22.4,"m":7.3},{"c":"IT","o":22.9,"m":15.8},{"c":"IT","o":23.4,"m":21.7},{"c":"IT","o":23.8,"m":11.6},{"c":"IT","o":24.3,"m":17.1},{"c":"IT","o":24.8,"m":23.2},{"c":"IT","o":25.3,"m":33.4},{"c":"IT","o":25.7,"m":12.8},{"c":"IT","o":26.2,"m":18.4},{"c":"IT","o":26.7,"m":24.7},{"c":"IT","o":27.2,"m":9.4},{"c":"IT","o":27.6,"m":14.1},{"c":"IT","o":28.1,"m":19.6},{"c":"IT","o":28.6,"m":26.3},{"c":"IT","o":29.1,"m":36.2},{"c":"IT","o":29.5,"m":15.2},{"c":"IT","o":30,"m":20.9},{"c":"IT","o":30.5,"m":27.8},{"c":"IT","o":31,"m":11.3},{"c":"IT","o":31.4,"m":16.6},{"c":"IT","o":31.9,"m":22.3},{"c":"IT","o":32.4,"m":29.4},{"c":"IT","o":32.9,"m":38.6},{"c":"IT","o":33.3,"m":17.8},{"c":"IT","o":33.8,"m":23.6},{"c":"IT","o":34.3,"m":13.2},{"c":"IT","o":34.8,"m":31.1},{"c":"IT","o":35.2,"m":19.2},{"c":"IT","o":35.7,"m":25.1},{"c":"IT","o":36.2,"m":14.6},{"c":"IT","o":36.7,"m":33.2},{"c":"IT","o":37.1,"m":20.6},{"c":"IT","o":37.6,"m":26.7},{"c":"IT","o":38.1,"m":16.1},{"c":"IT","o":38.6,"m":22.1},{"c":"IT","o":39,"m":28.4},{"c":"IT","o":39.5,"m":35.6},{"c":"IT","o":40,"m":17.6},{"c":"IT","o":40.5,"m":23.6},{"c":"IT","o":41,"m":30.2},{"c":"IT","o":41.5,"m":19.1},{"c":"IT","o":42,"m":25.2},{"c":"IT","o":42.6,"m":32.1},{"c":"IT","o":43.2,"m":21.3},{"c":"IT","o":43.8,"m":27.1},{"c":"IT","o":44.4,"m":34.3},{"c":"IT","o":45.1,"m":23.2},{"c":"IT","o":45.8,"m":29.4},{"c":"IT","o":46.5,"m":36.4},{"c":"IT","o":47.2,"m":25.6},{"c":"IT","o":48,"m":31.2},{"c":"IT","o":48.9,"m":27.4},{"c":"IT","o":49.8,"m":33.6},{"c":"IT","o":50.7,"m":29.1},{"c":"IT","o":51.8,"m":35.2},{"c":"IT","o":53,"m":26.3},{"c":"IT","o":54.3,"m":31.4},{"c":"IT","o":55.7,"m":34.6},{"c":"IT","o":57.2,"m":29.8},{"c":"IT","o":58.8,"m":33.2},{"c":"IT","o":60.5,"m":36.1},{"c":"IT","o":62.3,"m":31.3},{"c":"IT","o":64.4,"m":35.4},{"c":"IT","o":66.8,"m":32.8},{"c":"IT","o":69.3,"m":36.6},{"c":"IT","o":71.6,"m":35.1},{"c":"IT","o":73.2,"m":36.8},{"c":"IT","o":3.1,"m":12.3},{"c":"IT","o":5.6,"m":15.4},{"c":"IT","o":7.9,"m":18.8},{"c":"IT","o":9.4,"m":22.1},{"c":"IT","o":12.2,"m":24.6},{"c":"IT","o":14.1,"m":27.9},{"c":"IT","o":16.4,"m":31.2},{"c":"IT","o":18.9,"m":33.6},{"c":"IT","o":21.2,"m":36.1},{"c":"IT","o":2.2,"m":9.1},{"c":"IT","o":4.6,"m":10.4},{"c":"IT","o":6.9,"m":12.1},{"c":"IT","o":8.8,"m":13.3},{"c":"IT","o":11.3,"m":15.1},{"c":"IT","o":13.2,"m":17.4},{"c":"IT","o":15.6,"m":19.8},{"c":"IT","o":17.4,"m":21.6},{"c":"IT","o":19.8,"m":24.4},{"c":"IT","o":22.1,"m":26.3},{"c":"IT","o":24.1,"m":28.6},{"c":"IT","o":26.9,"m":30.3},{"c":"IT","o":28.8,"m":32.4},{"c":"IT","o":6.4,"m":1.8},{"c":"IT","o":9.9,"m":2.6},{"c":"IT","o":13.8,"m":3.7},{"c":"IT","o":17.9,"m":4.9},{"c":"IT","o":22.6,"m":5.8},{"c":"IT","o":26.4,"m":7.1},{"c":"IT","o":30.3,"m":8.2},{"c":"IT","o":34.6,"m":9.7},{"c":"IT","o":39.4,"m":11.1},{"c":"IT","o":43.6,"m":13.4},{"c":"IT","o":47.1,"m":15.6},{"c":"IT","o":10.8,"m":9.6},{"c":"IT","o":12.6,"m":10.9},{"c":"IT","o":14.6,"m":12.4},{"c":"IT","o":16.9,"m":13.7},{"c":"IT","o":18.4,"m":15.1},{"c":"IT","o":20.7,"m":16.3},{"c":"IT","o":23.1,"m":13.6},{"c":"IT","o":25.6,"m":15.9},{"c":"IT","o":27.9,"m":17.4},{"c":"IT","o":29.8,"m":18.8},{"c":"IT","o":32.1,"m":20.2},{"c":"IT","o":34.2,"m":21.4},{"c":"IT","o":36.4,"m":23.3},{"c":"IT","o":38.4,"m":24.9},{"c":"IT","o":40.6,"m":26.6},{"c":"IT","o":42.3,"m":28.3},{"c":"IT","o":44.6,"m":24.8},{"c":"IT","o":46.3,"m":26.9},{"c":"IT","o":3.6,"m":2.4},{"c":"IT","o":5.1,"m":4.2},{"c":"IT","o":7.4,"m":4.7},{"c":"IT","o":8.3,"m":7.8},{"c":"IT","o":1.6,"m":1.1},
{"c":"LT","o":0.8,"m":1.2},{"c":"LT","o":1.5,"m":1.4},{"c":"LT","o":2.7,"m":1.5},{"c":"LT","o":4.6,"m":2},{"c":"LT","o":6.5,"m":6.1},{"c":"LT","o":8.6,"m":7.2},{"c":"LT","o":10.1,"m":6.4},{"c":"LT","o":11.3,"m":10},{"c":"LT","o":13.7,"m":9.8},{"c":"LT","o":16.3,"m":10.9},{"c":"LT","o":18.7,"m":11.6},{"c":"LT","o":20.6,"m":18.2},{"c":"LT","o":21,"m":13.3},{"c":"LT","o":22.3,"m":12.2},{"c":"LT","o":23.2,"m":19.5},{"c":"LT","o":14,"m":42.5},{"c":"LT","o":38.2,"m":12.2},
{"c":"LU","o":8.1,"m":14.8},{"c":"LU","o":11.6,"m":13},{"c":"LU","o":12.9,"m":19},{"c":"LU","o":26.5,"m":11.2},{"c":"LU","o":34.6,"m":9.5},{"c":"LU","o":48,"m":13},
{"c":"LV","o":1.9,"m":1.7},{"c":"LV","o":7.7,"m":7.4},{"c":"LV","o":13.3,"m":11.6},{"c":"LV","o":15.3,"m":11.6},{"c":"LV","o":14.2,"m":6.5},{"c":"LV","o":18.5,"m":6.5},{"c":"LV","o":24.1,"m":16.9},{"c":"LV","o":27.1,"m":25.2},{"c":"LV","o":51.4,"m":25.2},
{"c":"MT","o":2.8,"m":1.7},{"c":"MT","o":13.3,"m":7.3},{"c":"MT","o":35.5,"m":26.8},
{"c":"NL","o":8.4,"m":6.5},{"c":"NL","o":9.8,"m":7.8},{"c":"NL","o":10.3,"m":10.1},{"c":"NL","o":10.6,"m":12.2},{"c":"NL","o":11.4,"m":11},{"c":"NL","o":12.3,"m":11.2},{"c":"NL","o":12.5,"m":9.7},{"c":"NL","o":13.1,"m":10.3},{"c":"NL","o":10.9,"m":11.2},{"c":"NL","o":13.4,"m":16.7},{"c":"NL","o":14.7,"m":14.4},{"c":"NL","o":15,"m":13.9},{"c":"NL","o":16.3,"m":12.6},{"c":"NL","o":16.7,"m":17.3},{"c":"NL","o":15.6,"m":16.7},{"c":"NL","o":18,"m":18.6},{"c":"NL","o":18.8,"m":20.5},{"c":"NL","o":19.6,"m":20.9},{"c":"NL","o":19.9,"m":15.4},{"c":"NL","o":21,"m":28.5},{"c":"NL","o":21.8,"m":24.7},{"c":"NL","o":22.1,"m":27.8},{"c":"NL","o":22.5,"m":25.6},{"c":"NL","o":23.4,"m":28.2},{"c":"NL","o":23.4,"m":21.8},{"c":"NL","o":24.3,"m":22.2},{"c":"NL","o":24.5,"m":29},{"c":"NL","o":25,"m":26.9},{"c":"NL","o":25.6,"m":26},{"c":"NL","o":22.3,"m":42.6},{"c":"NL","o":26.9,"m":25},{"c":"NL","o":27.6,"m":26.5},{"c":"NL","o":28.3,"m":30.1},{"c":"NL","o":28.9,"m":28.4},{"c":"NL","o":29.1,"m":31.6},{"c":"NL","o":29.4,"m":25},{"c":"NL","o":29.9,"m":27.5},{"c":"NL","o":30.8,"m":29.4},{"c":"NL","o":31.3,"m":35.8},{"c":"NL","o":31.9,"m":31.6},{"c":"NL","o":32.1,"m":32.9},{"c":"NL","o":32.7,"m":30.1},{"c":"NL","o":33,"m":28.5},{"c":"NL","o":33.2,"m":29.4},{"c":"NL","o":32.7,"m":22},{"c":"NL","o":33.8,"m":28.8},{"c":"NL","o":37,"m":34.9},{"c":"NL","o":39,"m":36.2},{"c":"NL","o":40.3,"m":44.5},{"c":"NL","o":40.5,"m":35.8},{"c":"NL","o":43,"m":31.3},{"c":"NL","o":43.9,"m":38.3},{"c":"NL","o":43.8,"m":39.4},{"c":"NL","o":46,"m":47.9},{"c":"NL","o":49.3,"m":31.6},{"c":"NL","o":18.5,"m":19.9},{"c":"NL","o":20.1,"m":20.5},{"c":"NL","o":25.8,"m":27.5},{"c":"NL","o":26.7,"m":28.8},{"c":"NL","o":30.5,"m":33.3},
{"c":"RO","o":4,"m":7.9},{"c":"RO","o":4.3,"m":10.3},{"c":"RO","o":6.6,"m":12},{"c":"RO","o":7.1,"m":11.4},{"c":"RO","o":7.6,"m":6.8},{"c":"RO","o":8.8,"m":10.6},{"c":"RO","o":9.3,"m":9.2},{"c":"RO","o":9.3,"m":5.4},{"c":"RO","o":9.8,"m":4.8},{"c":"RO","o":10.3,"m":3},{"c":"RO","o":10.6,"m":6.5},{"c":"RO","o":12.6,"m":6.9},{"c":"RO","o":14.3,"m":13},{"c":"RO","o":14.5,"m":11.2},{"c":"RO","o":14.8,"m":17.1},{"c":"RO","o":14.8,"m":27.6},{"c":"RO","o":16.3,"m":12.7},{"c":"RO","o":17.1,"m":12.4},{"c":"RO","o":17.1,"m":23.5},{"c":"RO","o":17.3,"m":22.9},{"c":"RO","o":17.8,"m":13.5},{"c":"RO","o":18.1,"m":18.5},{"c":"RO","o":18.1,"m":7.4},{"c":"RO","o":18.8,"m":7.4},{"c":"RO","o":20.3,"m":31.1},{"c":"RO","o":21.3,"m":21.1},{"c":"RO","o":21.8,"m":20.6},{"c":"RO","o":24.8,"m":22.3},{"c":"RO","o":25.3,"m":45},{"c":"RO","o":28.6,"m":24.1},{"c":"RO","o":28.6,"m":6.5},{"c":"RO","o":36.3,"m":37.5},{"c":"RO","o":43,"m":36.3},
{"c":"PL","o":57.3,"m":37},{"c":"PL","o":53.6,"m":31.6},{"c":"PL","o":59.1,"m":27.2},{"c":"PL","o":62.8,"m":31.1},{"c":"PL","o":43.3,"m":26.4},{"c":"PL","o":38.8,"m":25.6},{"c":"PL","o":30.2,"m":22.3},{"c":"PL","o":29.5,"m":21},{"c":"PL","o":28.4,"m":19.8},{"c":"PL","o":31.9,"m":18.2},{"c":"PL","o":28.1,"m":16.6},{"c":"PL","o":26,"m":17.4},{"c":"PL","o":24,"m":16.6},{"c":"PL","o":21.9,"m":18.7},{"c":"PL","o":22.6,"m":15.7},{"c":"PL","o":20.5,"m":14.4},{"c":"PL","o":25.3,"m":14.9},{"c":"PL","o":28.8,"m":11.6},{"c":"PL","o":24.7,"m":10.8},{"c":"PL","o":21.2,"m":10.8},{"c":"PL","o":26.7,"m":13.6},{"c":"PL","o":3.3,"m":2.1},{"c":"PL","o":4,"m":3.4},{"c":"PL","o":5.4,"m":5.1},{"c":"PL","o":7.4,"m":5.9},{"c":"PL","o":8.8,"m":6.7},{"c":"PL","o":10.2,"m":8.4},{"c":"PL","o":11.6,"m":9.2},{"c":"PL","o":12.9,"m":10},{"c":"PL","o":14.3,"m":10.8},{"c":"PL","o":15,"m":14.1},{"c":"PL","o":16.4,"m":12.8},{"c":"PL","o":17.8,"m":15.7},{"c":"PL","o":19.1,"m":16.6},{"c":"PL","o":6.1,"m":7.5},{"c":"PL","o":11.6,"m":6.7},{"c":"PL","o":13.6,"m":8.4},{"c":"PL","o":15.7,"m":10},{"c":"PL","o":18.5,"m":12.3},{"c":"PL","o":17.1,"m":11.1},{"c":"PL","o":20.2,"m":13.1},{"c":"PL","o":23.8,"m":15.2},{"c":"PL","o":22.1,"m":12.3},{"c":"PL","o":26.3,"m":14.1},{"c":"PL","o":18.2,"m":9.7},{"c":"PL","o":16.1,"m":9.1},{"c":"PL","o":13.9,"m":7.8},{"c":"PL","o":12.2,"m":7.2},{"c":"PL","o":9.7,"m":6.1},{"c":"PL","o":8.9,"m":5.4},{"c":"PL","o":25.1,"m":16.2},{"c":"PL","o":27.2,"m":17.6},{"c":"PL","o":23.3,"m":13.8},{"c":"PL","o":30.4,"m":19.2},{"c":"PL","o":33.1,"m":20.4},
{"c":"PT","o":64.4,"m":28.8},{"c":"PT","o":58.6,"m":18},{"c":"PT","o":46.1,"m":33},{"c":"PT","o":38.6,"m":18},{"c":"PT","o":34.3,"m":9.8},{"c":"PT","o":30.7,"m":6.3},{"c":"PT","o":18.5,"m":25.5},{"c":"PT","o":4.9,"m":11.3},{"c":"PT","o":1,"m":3.5},{"c":"PT","o":2,"m":1},{"c":"PT","o":4.9,"m":3.5},{"c":"PT","o":5.6,"m":4.3},{"c":"PT","o":6.2,"m":1.8},{"c":"PT","o":4,"m":5.7},{"c":"PT","o":10.3,"m":5.2},{"c":"PT","o":12.3,"m":6.8},{"c":"PT","o":13.7,"m":6.8},{"c":"PT","o":15.2,"m":7.3},{"c":"PT","o":14.5,"m":13.5},{"c":"PT","o":14.2,"m":17.7},{"c":"PT","o":16,"m":16},{"c":"PT","o":17.5,"m":13.5},{"c":"PT","o":18.2,"m":14.7},{"c":"PT","o":18.9,"m":11},{"c":"PT","o":19.6,"m":15.2},{"c":"PT","o":19.6,"m":12.7},{"c":"PT","o":20.3,"m":14.7},{"c":"PT","o":21.5,"m":10.2},{"c":"PT","o":22.5,"m":10.5},{"c":"PT","o":23.9,"m":11},{"c":"PT","o":25.3,"m":16},{"c":"PT","o":26,"m":14.3},{"c":"PT","o":27.4,"m":16.8},{"c":"PT","o":28.1,"m":13},{"c":"PT","o":29.5,"m":12.7},{"c":"PT","o":30.1,"m":14.3},{"c":"PT","o":18.2,"m":8.5},{"c":"PT","o":20.3,"m":9.3},{"c":"PT","o":16.8,"m":8.8},{"c":"PT","o":12.9,"m":5.2},{"c":"PT","o":10,"m":4.3},{"c":"PT","o":7.5,"m":2.6},{"c":"PT","o":2,"m":2.6},{"c":"PT","o":22.5,"m":16.8},{"c":"PT","o":23.2,"m":9.3},{"c":"PT","o":8.5,"m":6},{"c":"PT","o":3,"m":5},
{"c":"SE","o":34.3,"m":57.5},{"c":"SE","o":32.5,"m":41.4},{"c":"SE","o":33,"m":41.1},{"c":"SE","o":39.7,"m":40.6},{"c":"SE","o":41.6,"m":38.8},{"c":"SE","o":35.9,"m":36.9},{"c":"SE","o":30.2,"m":33.6},{"c":"SE","o":37.8,"m":33.1},{"c":"SE","o":35.6,"m":22.6},{"c":"SE","o":30.2,"m":18.1},{"c":"SE","o":31.4,"m":13.6},{"c":"SE","o":32.1,"m":12.6},{"c":"SE","o":29.9,"m":14.4},{"c":"SE","o":23.8,"m":21.1},{"c":"SE","o":24.4,"m":18.9},{"c":"SE","o":24.4,"m":16.3},{"c":"SE","o":21,"m":17.4},{"c":"SE","o":21,"m":8},{"c":"SE","o":18.1,"m":15.9},{"c":"SE","o":17.5,"m":22.6},{"c":"SE","o":17.7,"m":20.1},{"c":"SE","o":13,"m":26.8},{"c":"SE","o":13.2,"m":16.9},{"c":"SE","o":14,"m":14},{"c":"SE","o":12.9,"m":12},{"c":"SE","o":14.1,"m":9.1},{"c":"SE","o":14.7,"m":4.1},{"c":"SE","o":11.2,"m":12.4},{"c":"SE","o":15.9,"m":40.6},{"c":"SE","o":7.3,"m":16.2},{"c":"SE","o":9.4,"m":13.6},{"c":"SE","o":10.4,"m":9.1},{"c":"SE","o":9.2,"m":7.3},{"c":"SE","o":7.7,"m":6.4},{"c":"SE","o":6.7,"m":3.9},{"c":"SE","o":5.1,"m":3.9},{"c":"SE","o":4,"m":2.8},{"c":"SE","o":2.7,"m":1.3},{"c":"SE","o":1.1,"m":0.5},{"c":"SE","o":0.6,"m":0.2},{"c":"SE","o":1.5,"m":0.9},{"c":"SE","o":5.5,"m":7.6},{"c":"SE","o":8.7,"m":11.2},{"c":"SE","o":13,"m":18.7},{"c":"SE","o":18.7,"m":17.2},
{"c":"SI","o":1.3,"m":1.8},{"c":"SI","o":12.7,"m":10.5},{"c":"SI","o":16.7,"m":25.8},{"c":"SI","o":18.1,"m":7.7},{"c":"SI","o":22.1,"m":20.3},{"c":"SI","o":25,"m":23.5},{"c":"SI","o":28.4,"m":20.4},{"c":"SI","o":29.5,"m":38.5},{"c":"SI","o":30.6,"m":33.9},
{"c":"SK","o":17.2,"m":20.3},{"c":"SK","o":24.2,"m":31.3},{"c":"SK","o":26.4,"m":26.8},{"c":"SK","o":24.8,"m":22.4},{"c":"SK","o":49.5,"m":54.6}
]},
"data":{"name":"pts"},
"columns":5,
"spacing":{"row":62,"column":49},
"bounds":"flush",
"concat":[
{"title":{"text":"AT","offset":-1},"width":150,"height":129,"layer":[
{"transform":[{"filter":"datum.c=='AT'"}],"mark":{"type":"square","size":8,"color":"#0000ff","opacity":1},"encoding":{"x":{"field":"o","type":"quantitative","scale":{"domain":[0,92]},"axis":{"values":[0,50],"title":null}},"y":{"field":"m","type":"quantitative","scale":{"domain":[0,92]},"axis":{"values":[0,20,40,60,80],"title":"Modelled (μg/m³ )"}}}},
{"data":{"name":"fit"},"transform":[{"filter":"datum.c=='AT'"}],"mark":{"type":"rule","color":"#8c8c8c","strokeWidth":1.2},"encoding":{"x":{"field":"x1","type":"quantitative","scale":{"domain":[0,92]}},"y":{"field":"y1","type":"quantitative","scale":{"domain":[0,92]}},"x2":{"field":"x2"},"y2":{"field":"y2"}}},
{"data":{"name":"fit"},"transform":[{"filter":"datum.c=='AT'"}],"mark":{"type":"text","align":"left","baseline":"top","dx":7,"dy":4,"fontSize":12.5,"font":"DejaVu Sans","lineHeight":14.7,"color":"#3c3c3c","lineBreak":"\n"},"encoding":{"x":{"datum":0,"type":"quantitative","scale":{"domain":[0,92]}},"y":{"datum":92,"type":"quantitative","scale":{"domain":[0,92]}},"text":{"field":"lab"}}}]},
{"title":"BE","width":150,"height":129,"layer":[
{"transform":[{"filter":"datum.c=='BE'"}],"mark":{"type":"square","size":8,"color":"#0000ff","opacity":1},"encoding":{"x":{"field":"o","type":"quantitative","scale":{"domain":[0,52]},"axis":{"values":[0,50],"title":null}},"y":{"field":"m","type":"quantitative","scale":{"domain":[0,52]},"axis":{"values":[0,20,40],"title":null}}}},
{"data":{"name":"fit"},"transform":[{"filter":"datum.c=='BE'"}],"mark":{"type":"rule","color":"#8c8c8c","strokeWidth":1.2},"encoding":{"x":{"field":"x1","type":"quantitative","scale":{"domain":[0,52]}},"y":{"field":"y1","type":"quantitative","scale":{"domain":[0,52]}},"x2":{"field":"x2"},"y2":{"field":"y2"}}},
{"data":{"name":"fit"},"transform":[{"filter":"datum.c=='BE'"}],"mark":{"type":"text","align":"left","baseline":"top","dx":7,"dy":4,"fontSize":12.5,"font":"DejaVu Sans","lineHeight":14.7,"color":"#3c3c3c","lineBreak":"\n"},"encoding":{"x":{"datum":0,"type":"quantitative","scale":{"domain":[0,52]}},"y":{"datum":52,"type":"quantitative","scale":{"domain":[0,52]}},"text":{"field":"lab"}}}]},
{"title":"BG","width":150,"height":129,"layer":[
{"transform":[{"filter":"datum.c=='BG'"}],"mark":{"type":"square","size":8,"color":"#0000ff","opacity":1},"encoding":{"x":{"field":"o","type":"quantitative","scale":{"domain":[0,41.8]},"axis":{"values":[0,20,40],"title":null}},"y":{"field":"m","type":"quantitative","scale":{"domain":[0,41.8]},"axis":{"values":[0,20,40],"title":null}}}},
{"data":{"name":"fit"},"transform":[{"filter":"datum.c=='BG'"}],"mark":{"type":"rule","color":"#8c8c8c","strokeWidth":1.2},"encoding":{"x":{"field":"x1","type":"quantitative","scale":{"domain":[0,41.8]}},"y":{"field":"y1","type":"quantitative","scale":{"domain":[0,41.8]}},"x2":{"field":"x2"},"y2":{"field":"y2"}}},
{"data":{"name":"fit"},"transform":[{"filter":"datum.c=='BG'"}],"mark":{"type":"text","align":"left","baseline":"top","dx":7,"dy":4,"fontSize":12.5,"font":"DejaVu Sans","lineHeight":14.7,"color":"#3c3c3c","lineBreak":"\n"},"encoding":{"x":{"datum":0,"type":"quantitative","scale":{"domain":[0,41.8]}},"y":{"datum":41.8,"type":"quantitative","scale":{"domain":[0,41.8]}},"text":{"field":"lab"}}}]},
{"title":"CY","width":150,"height":129,"layer":[
{"transform":[{"filter":"datum.c=='CY'"}],"mark":{"type":"square","size":8,"color":"#0000ff","opacity":1},"encoding":{"x":{"field":"o","type":"quantitative","scale":{"domain":[0,32.5]},"axis":{"values":[0,20],"title":null}},"y":{"field":"m","type":"quantitative","scale":{"domain":[0,32.5]},"axis":{"values":[0,10,20,30],"title":null}}}},
{"data":{"name":"fit"},"transform":[{"filter":"datum.c=='CY'"}],"mark":{"type":"text","align":"left","baseline":"top","dx":7,"dy":4,"fontSize":12.5,"font":"DejaVu Sans","lineHeight":14.7,"color":"#3c3c3c","lineBreak":"\n"},"encoding":{"x":{"datum":0,"type":"quantitative","scale":{"domain":[0,32.5]}},"y":{"datum":32.5,"type":"quantitative","scale":{"domain":[0,32.5]}},"text":{"field":"lab"}}}]},
{"title":{"text":"Institute","anchor":"end","color":"#1a9aa0","fontSize":23,"font":"DejaVu Sans","fontWeight":"normal","dy":-32,"dx":5},"width":150,"height":129,"layer":[
{"transform":[{"filter":"datum.c=='CZ'"}],"mark":{"type":"square","size":8,"color":"#0000ff","opacity":1},"encoding":{"x":{"field":"o","type":"quantitative","scale":{"domain":[0,47.2]},"axis":{"values":[0,20,40],"title":null}},"y":{"field":"m","type":"quantitative","scale":{"domain":[0,47.2]},"axis":{"values":[0,20,40],"title":null}}}},
{"data":{"name":"fit"},"transform":[{"filter":"datum.c=='CZ'"}],"mark":{"type":"rule","color":"#8c8c8c","strokeWidth":1.2},"encoding":{"x":{"field":"x1","type":"quantitative","scale":{"domain":[0,47.2]}},"y":{"field":"y1","type":"quantitative","scale":{"domain":[0,47.2]}},"x2":{"field":"x2"},"y2":{"field":"y2"}}},
{"data":{"name":"fit"},"transform":[{"filter":"datum.c=='CZ'"}],"mark":{"type":"text","align":"left","baseline":"top","dx":7,"dy":4,"fontSize":12.5,"font":"DejaVu Sans","lineHeight":14.7,"color":"#3c3c3c","lineBreak":"\n"},"encoding":{"x":{"datum":0,"type":"quantitative","scale":{"domain":[0,47.2]}},"y":{"datum":47.2,"type":"quantitative","scale":{"domain":[0,47.2]}},"text":{"field":"lab"}}}]},
{"title":{"text":"DE","offset":-1},"width":150,"height":129,"layer":[
{"transform":[{"filter":"datum.c=='DE'"}],"mark":{"type":"square","size":8,"color":"#0000ff","opacity":1},"encoding":{"x":{"field":"o","type":"quantitative","scale":{"domain":[0,87]},"axis":{"values":[0,50],"title":null}},"y":{"field":"m","type":"quantitative","scale":{"domain":[0,87]},"axis":{"values":[0,20,40,60,80],"title":"Modelled (μg/m³ )"}}}},
{"data":{"name":"fit"},"transform":[{"filter":"datum.c=='DE'"}],"mark":{"type":"rule","color":"#8c8c8c","strokeWidth":1.2},"encoding":{"x":{"field":"x1","type":"quantitative","scale":{"domain":[0,87]}},"y":{"field":"y1","type":"quantitative","scale":{"domain":[0,87]}},"x2":{"field":"x2"},"y2":{"field":"y2"}}},
{"data":{"name":"fit"},"transform":[{"filter":"datum.c=='DE'"}],"mark":{"type":"text","align":"left","baseline":"top","dx":7,"dy":4,"fontSize":12.5,"font":"DejaVu Sans","lineHeight":14.7,"color":"#3c3c3c","lineBreak":"\n"},"encoding":{"x":{"datum":0,"type":"quantitative","scale":{"domain":[0,87]}},"y":{"datum":87,"type":"quantitative","scale":{"domain":[0,87]}},"text":{"field":"lab"}}}]},
{"title":"DK","width":150,"height":129,"layer":[
{"transform":[{"filter":"datum.c=='DK'"}],"mark":{"type":"square","size":8,"color":"#0000ff","opacity":1},"encoding":{"x":{"field":"o","type":"quantitative","scale":{"domain":[0,49]},"axis":{"values":[0,20,40],"title":null}},"y":{"field":"m","type":"quantitative","scale":{"domain":[0,49]},"axis":{"values":[0,20,40],"title":null}}}},
{"data":{"name":"fit"},"transform":[{"filter":"datum.c=='DK'"}],"mark":{"type":"rule","color":"#8c8c8c","strokeWidth":1.2},"encoding":{"x":{"field":"x1","type":"quantitative","scale":{"domain":[0,49]}},"y":{"field":"y1","type":"quantitative","scale":{"domain":[0,49]}},"x2":{"field":"x2"},"y2":{"field":"y2"}}},
{"data":{"name":"fit"},"transform":[{"filter":"datum.c=='DK'"}],"mark":{"type":"text","align":"left","baseline":"top","dx":7,"dy":4,"fontSize":12.5,"font":"DejaVu Sans","lineHeight":14.7,"color":"#3c3c3c","lineBreak":"\n"},"encoding":{"x":{"datum":0,"type":"quantitative","scale":{"domain":[0,49]}},"y":{"datum":49,"type":"quantitative","scale":{"domain":[0,49]}},"text":{"field":"lab"}}}]},
{"title":"ES","width":150,"height":129,"layer":[
{"transform":[{"filter":"datum.c=='ES'"}],"mark":{"type":"square","size":8,"color":"#0000ff","opacity":1},"encoding":{"x":{"field":"o","type":"quantitative","scale":{"domain":[0,66.5]},"axis":{"values":[0,50],"title":null}},"y":{"field":"m","type":"quantitative","scale":{"domain":[0,66.5]},"axis":{"values":[0,20,40,60],"title":null}}}},
{"data":{"name":"fit"},"transform":[{"filter":"datum.c=='ES'"}],"mark":{"type":"rule","color":"#8c8c8c","strokeWidth":1.2},"encoding":{"x":{"field":"x1","type":"quantitative","scale":{"domain":[0,66.5]}},"y":{"field":"y1","type":"quantitative","scale":{"domain":[0,66.5]}},"x2":{"field":"x2"},"y2":{"field":"y2"}}},
{"data":{"name":"fit"},"transform":[{"filter":"datum.c=='ES'"}],"mark":{"type":"text","align":"left","baseline":"top","dx":7,"dy":4,"fontSize":12.5,"font":"DejaVu Sans","lineHeight":14.7,"color":"#3c3c3c","lineBreak":"\n"},"encoding":{"x":{"datum":0,"type":"quantitative","scale":{"domain":[0,66.5]}},"y":{"datum":66.5,"type":"quantitative","scale":{"domain":[0,66.5]}},"text":{"field":"lab"}}}]},
{"title":"EE","width":150,"height":129,"layer":[
{"transform":[{"filter":"datum.c=='EE'"}],"mark":{"type":"square","size":8,"color":"#0000ff","opacity":1},"encoding":{"x":{"field":"o","type":"quantitative","scale":{"domain":[0,58]},"axis":{"values":[0,50],"title":null}},"y":{"field":"m","type":"quantitative","scale":{"domain":[0,58]},"axis":{"values":[0,20,40],"title":null}}}},
{"data":{"name":"fit"},"transform":[{"filter":"datum.c=='EE'"}],"mark":{"type":"rule","color":"#8c8c8c","strokeWidth":1.2},"encoding":{"x":{"field":"x1","type":"quantitative","scale":{"domain":[0,58]}},"y":{"field":"y1","type":"quantitative","scale":{"domain":[0,58]}},"x2":{"field":"x2"},"y2":{"field":"y2"}}},
{"data":{"name":"fit"},"transform":[{"filter":"datum.c=='EE'"}],"mark":{"type":"text","align":"left","baseline":"top","dx":7,"dy":4,"fontSize":12.5,"font":"DejaVu Sans","lineHeight":14.7,"color":"#3c3c3c","lineBreak":"\n"},"encoding":{"x":{"datum":0,"type":"quantitative","scale":{"domain":[0,58]}},"y":{"datum":58,"type":"quantitative","scale":{"domain":[0,58]}},"text":{"field":"lab"}}}]},
{"title":"EL","width":150,"height":129,"layer":[
{"transform":[{"filter":"datum.c=='EL'"}],"mark":{"type":"square","size":8,"color":"#0000ff","opacity":1},"encoding":{"x":{"field":"o","type":"quantitative","scale":{"domain":[0,78]},"axis":{"values":[0,50],"title":null}},"y":{"field":"m","type":"quantitative","scale":{"domain":[0,78]},"axis":{"values":[0,20,40,60],"title":null}}}},
{"data":{"name":"fit"},"transform":[{"filter":"datum.c=='EL'"}],"mark":{"type":"rule","color":"#8c8c8c","strokeWidth":1.2},"encoding":{"x":{"field":"x1","type":"quantitative","scale":{"domain":[0,78]}},"y":{"field":"y1","type":"quantitative","scale":{"domain":[0,78]}},"x2":{"field":"x2"},"y2":{"field":"y2"}}},
{"data":{"name":"fit"},"transform":[{"filter":"datum.c=='EL'"}],"mark":{"type":"text","align":"left","baseline":"top","dx":7,"dy":4,"fontSize":12.5,"font":"DejaVu Sans","lineHeight":14.7,"color":"#3c3c3c","lineBreak":"\n"},"encoding":{"x":{"datum":0,"type":"quantitative","scale":{"domain":[0,78]}},"y":{"datum":78,"type":"quantitative","scale":{"domain":[0,78]}},"text":{"field":"lab"}}}]},
{"title":{"text":"FR","offset":-1},"width":150,"height":129,"layer":[
{"transform":[{"filter":"datum.c=='FR'"}],"mark":{"type":"square","size":8,"color":"#0000ff","opacity":1},"encoding":{"x":{"field":"o","type":"quantitative","scale":{"domain":[0,84]},"axis":{"values":[0,50],"title":null}},"y":{"field":"m","type":"quantitative","scale":{"domain":[0,84]},"axis":{"values":[0,20,40,60,80],"title":"Modelled (μg/m³ )"}}}},
{"data":{"name":"fit"},"transform":[{"filter":"datum.c=='FR'"}],"mark":{"type":"rule","color":"#8c8c8c","strokeWidth":1.2},"encoding":{"x":{"field":"x1","type":"quantitative","scale":{"domain":[0,84]}},"y":{"field":"y1","type":"quantitative","scale":{"domain":[0,84]}},"x2":{"field":"x2"},"y2":{"field":"y2"}}},
{"data":{"name":"fit"},"transform":[{"filter":"datum.c=='FR'"}],"mark":{"type":"text","align":"left","baseline":"top","dx":7,"dy":4,"fontSize":12.5,"font":"DejaVu Sans","lineHeight":14.7,"color":"#3c3c3c","lineBreak":"\n"},"encoding":{"x":{"datum":0,"type":"quantitative","scale":{"domain":[0,84]}},"y":{"datum":84,"type":"quantitative","scale":{"domain":[0,84]}},"text":{"field":"lab"}}}]},
{"title":"FI","width":150,"height":129,"layer":[
{"transform":[{"filter":"datum.c=='FI'"}],"mark":{"type":"square","size":8,"color":"#0000ff","opacity":1},"encoding":{"x":{"field":"o","type":"quantitative","scale":{"domain":[0,42.7]},"axis":{"values":[0,20,40],"title":null}},"y":{"field":"m","type":"quantitative","scale":{"domain":[0,42.7]},"axis":{"values":[0,20,40],"title":null}}}},
{"data":{"name":"fit"},"transform":[{"filter":"datum.c=='FI'"}],"mark":{"type":"rule","color":"#8c8c8c","strokeWidth":1.2},"encoding":{"x":{"field":"x1","type":"quantitative","scale":{"domain":[0,42.7]}},"y":{"field":"y1","type":"quantitative","scale":{"domain":[0,42.7]}},"x2":{"field":"x2"},"y2":{"field":"y2"}}},
{"data":{"name":"fit"},"transform":[{"filter":"datum.c=='FI'"}],"mark":{"type":"text","align":"left","baseline":"top","dx":7,"dy":4,"fontSize":12.5,"font":"DejaVu Sans","lineHeight":14.7,"color":"#3c3c3c","lineBreak":"\n"},"encoding":{"x":{"datum":0,"type":"quantitative","scale":{"domain":[0,42.7]}},"y":{"datum":42.7,"type":"quantitative","scale":{"domain":[0,42.7]}},"text":{"field":"lab"}}}]},
{"title":"HR","width":150,"height":129,"layer":[
{"transform":[{"filter":"datum.c=='HR'"}],"mark":{"type":"square","size":8,"color":"#0000ff","opacity":1},"encoding":{"x":{"field":"o","type":"quantitative","scale":{"domain":[0,42.2]},"axis":{"values":[0,20,40],"title":null}},"y":{"field":"m","type":"quantitative","scale":{"domain":[0,42.2]},"axis":{"values":[0,20,40],"title":null}}}},
{"data":{"name":"fit"},"transform":[{"filter":"datum.c=='HR'"}],"mark":{"type":"rule","color":"#8c8c8c","strokeWidth":1.2},"encoding":{"x":{"field":"x1","type":"quantitative","scale":{"domain":[0,42.2]}},"y":{"field":"y1","type":"quantitative","scale":{"domain":[0,42.2]}},"x2":{"field":"x2"},"y2":{"field":"y2"}}},
{"data":{"name":"fit"},"transform":[{"filter":"datum.c=='HR'"}],"mark":{"type":"text","align":"left","baseline":"top","dx":7,"dy":4,"fontSize":12.5,"font":"DejaVu Sans","lineHeight":14.7,"color":"#3c3c3c","lineBreak":"\n"},"encoding":{"x":{"datum":0,"type":"quantitative","scale":{"domain":[0,42.2]}},"y":{"datum":42.2,"type":"quantitative","scale":{"domain":[0,42.2]}},"text":{"field":"lab"}}}]},
{"title":"HU","width":150,"height":129,"layer":[
{"transform":[{"filter":"datum.c=='HU'"}],"mark":{"type":"square","size":8,"color":"#0000ff","opacity":1},"encoding":{"x":{"field":"o","type":"quantitative","scale":{"domain":[0,52]},"axis":{"values":[0,50],"title":null}},"y":{"field":"m","type":"quantitative","scale":{"domain":[0,52]},"axis":{"values":[0,20,40],"title":null}}}},
{"data":{"name":"fit"},"transform":[{"filter":"datum.c=='HU'"}],"mark":{"type":"rule","color":"#8c8c8c","strokeWidth":1.2},"encoding":{"x":{"field":"x1","type":"quantitative","scale":{"domain":[0,52]}},"y":{"field":"y1","type":"quantitative","scale":{"domain":[0,52]}},"x2":{"field":"x2"},"y2":{"field":"y2"}}},
{"data":{"name":"fit"},"transform":[{"filter":"datum.c=='HU'"}],"mark":{"type":"text","align":"left","baseline":"top","dx":7,"dy":4,"fontSize":12.5,"font":"DejaVu Sans","lineHeight":14.7,"color":"#3c3c3c","lineBreak":"\n"},"encoding":{"x":{"datum":0,"type":"quantitative","scale":{"domain":[0,52]}},"y":{"datum":52,"type":"quantitative","scale":{"domain":[0,52]}},"text":{"field":"lab"}}}]},
{"title":{"text":"IE","offset":-4},"width":150,"height":129,"layer":[
{"transform":[{"filter":"datum.c=='IE'"}],"mark":{"type":"square","size":8,"color":"#0000ff","opacity":1},"encoding":{"x":{"field":"o","type":"quantitative","scale":{"domain":[0,40.2]},"axis":{"values":[0,20,40],"title":null}},"y":{"field":"m","type":"quantitative","scale":{"domain":[0,40.2]},"axis":{"values":[0,20,40],"title":null}}}},
{"data":{"name":"fit"},"transform":[{"filter":"datum.c=='IE'"}],"mark":{"type":"rule","color":"#8c8c8c","strokeWidth":1.2},"encoding":{"x":{"field":"x1","type":"quantitative","scale":{"domain":[0,40.2]}},"y":{"field":"y1","type":"quantitative","scale":{"domain":[0,40.2]}},"x2":{"field":"x2"},"y2":{"field":"y2"}}},
{"data":{"name":"fit"},"transform":[{"filter":"datum.c=='IE'"}],"mark":{"type":"text","align":"left","baseline":"top","dx":7,"dy":4,"fontSize":12.5,"font":"DejaVu Sans","lineHeight":14.7,"color":"#3c3c3c","lineBreak":"\n"},"encoding":{"x":{"datum":0,"type":"quantitative","scale":{"domain":[0,40.2]}},"y":{"datum":40.2,"type":"quantitative","scale":{"domain":[0,40.2]}},"text":{"field":"lab"}}}]},
{"title":{"text":"IT","offset":-1},"width":150,"height":129,"layer":[
{"transform":[{"filter":"datum.c=='IT'"}],"mark":{"type":"square","size":8,"color":"#0000ff","opacity":1},"encoding":{"x":{"field":"o","type":"quantitative","scale":{"domain":[0,80]},"axis":{"values":[0,50],"title":null}},"y":{"field":"m","type":"quantitative","scale":{"domain":[0,80]},"axis":{"values":[0,20,40,60,80],"title":"Modelled (μg/m³ )"}}}},
{"data":{"name":"fit"},"transform":[{"filter":"datum.c=='IT'"}],"mark":{"type":"rule","color":"#8c8c8c","strokeWidth":1.2},"encoding":{"x":{"field":"x1","type":"quantitative","scale":{"domain":[0,80]}},"y":{"field":"y1","type":"quantitative","scale":{"domain":[0,80]}},"x2":{"field":"x2"},"y2":{"field":"y2"}}},
{"data":{"name":"fit"},"transform":[{"filter":"datum.c=='IT'"}],"mark":{"type":"text","align":"left","baseline":"top","dx":7,"dy":4,"fontSize":12.5,"font":"DejaVu Sans","lineHeight":14.7,"color":"#3c3c3c","lineBreak":"\n"},"encoding":{"x":{"datum":0,"type":"quantitative","scale":{"domain":[0,80]}},"y":{"datum":80,"type":"quantitative","scale":{"domain":[0,80]}},"text":{"field":"lab"}}}]},
{"title":"LT","width":150,"height":129,"layer":[
{"transform":[{"filter":"datum.c=='LT'"}],"mark":{"type":"square","size":8,"color":"#0000ff","opacity":1},"encoding":{"x":{"field":"o","type":"quantitative","scale":{"domain":[0,42.6]},"axis":{"values":[0,20,40],"title":null}},"y":{"field":"m","type":"quantitative","scale":{"domain":[0,42.6]},"axis":{"values":[0,20,40],"title":null}}}},
{"data":{"name":"fit"},"transform":[{"filter":"datum.c=='LT'"}],"mark":{"type":"rule","color":"#8c8c8c","strokeWidth":1.2},"encoding":{"x":{"field":"x1","type":"quantitative","scale":{"domain":[0,42.6]}},"y":{"field":"y1","type":"quantitative","scale":{"domain":[0,42.6]}},"x2":{"field":"x2"},"y2":{"field":"y2"}}},
{"data":{"name":"fit"},"transform":[{"filter":"datum.c=='LT'"}],"mark":{"type":"text","align":"left","baseline":"top","dx":7,"dy":4,"fontSize":12.5,"font":"DejaVu Sans","lineHeight":14.7,"color":"#3c3c3c","lineBreak":"\n"},"encoding":{"x":{"datum":0,"type":"quantitative","scale":{"domain":[0,42.6]}},"y":{"datum":42.6,"type":"quantitative","scale":{"domain":[0,42.6]}},"text":{"field":"lab"}}}]},
{"title":"LU","width":150,"height":129,"layer":[
{"transform":[{"filter":"datum.c=='LU'"}],"mark":{"type":"square","size":8,"color":"#0000ff","opacity":1},"encoding":{"x":{"field":"o","type":"quantitative","scale":{"domain":[0,48.3]},"axis":{"values":[0,20,40],"title":null}},"y":{"field":"m","type":"quantitative","scale":{"domain":[0,48.3]},"axis":{"values":[0,20,40],"title":null}}}},
{"data":{"name":"fit"},"transform":[{"filter":"datum.c=='LU'"}],"mark":{"type":"rule","color":"#8c8c8c","strokeWidth":1.2},"encoding":{"x":{"field":"x1","type":"quantitative","scale":{"domain":[0,48.3]}},"y":{"field":"y1","type":"quantitative","scale":{"domain":[0,48.3]}},"x2":{"field":"x2"},"y2":{"field":"y2"}}},
{"data":{"name":"fit"},"transform":[{"filter":"datum.c=='LU'"}],"mark":{"type":"text","align":"left","baseline":"top","dx":7,"dy":4,"fontSize":12.5,"font":"DejaVu Sans","lineHeight":14.7,"color":"#3c3c3c","lineBreak":"\n"},"encoding":{"x":{"datum":0,"type":"quantitative","scale":{"domain":[0,48.3]}},"y":{"datum":48.3,"type":"quantitative","scale":{"domain":[0,48.3]}},"text":{"field":"lab"}}}]},
{"title":"LV","width":150,"height":129,"layer":[
{"transform":[{"filter":"datum.c=='LV'"}],"mark":{"type":"square","size":8,"color":"#0000ff","opacity":1},"encoding":{"x":{"field":"o","type":"quantitative","scale":{"domain":[0,51.5]},"axis":{"values":[0,50],"title":null}},"y":{"field":"m","type":"quantitative","scale":{"domain":[0,51.5]},"axis":{"values":[0,20,40],"title":null}}}},
{"data":{"name":"fit"},"transform":[{"filter":"datum.c=='LV'"}],"mark":{"type":"rule","color":"#8c8c8c","strokeWidth":1.2},"encoding":{"x":{"field":"x1","type":"quantitative","scale":{"domain":[0,51.5]}},"y":{"field":"y1","type":"quantitative","scale":{"domain":[0,51.5]}},"x2":{"field":"x2"},"y2":{"field":"y2"}}},
{"data":{"name":"fit"},"transform":[{"filter":"datum.c=='LV'"}],"mark":{"type":"text","align":"left","baseline":"top","dx":7,"dy":4,"fontSize":12.5,"font":"DejaVu Sans","lineHeight":14.7,"color":"#3c3c3c","lineBreak":"\n"},"encoding":{"x":{"datum":0,"type":"quantitative","scale":{"domain":[0,51.5]}},"y":{"datum":51.5,"type":"quantitative","scale":{"domain":[0,51.5]}},"text":{"field":"lab"}}}]},
{"title":"MT","width":150,"height":129,"layer":[
{"transform":[{"filter":"datum.c=='MT'"}],"mark":{"type":"square","size":8,"color":"#0000ff","opacity":1},"encoding":{"x":{"field":"o","type":"quantitative","scale":{"domain":[0,35.6]},"axis":{"values":[0,20],"title":null}},"y":{"field":"m","type":"quantitative","scale":{"domain":[0,35.6]},"axis":{"values":[0,10,20,30],"title":null}}}},
{"data":{"name":"fit"},"transform":[{"filter":"datum.c=='MT'"}],"mark":{"type":"rule","color":"#8c8c8c","strokeWidth":1.2},"encoding":{"x":{"field":"x1","type":"quantitative","scale":{"domain":[0,35.6]}},"y":{"field":"y1","type":"quantitative","scale":{"domain":[0,35.6]}},"x2":{"field":"x2"},"y2":{"field":"y2"}}},
{"data":{"name":"fit"},"transform":[{"filter":"datum.c=='MT'"}],"mark":{"type":"text","align":"left","baseline":"top","dx":7,"dy":4,"fontSize":12.5,"font":"DejaVu Sans","lineHeight":14.7,"color":"#3c3c3c","lineBreak":"\n"},"encoding":{"x":{"datum":0,"type":"quantitative","scale":{"domain":[0,35.6]}},"y":{"datum":35.6,"type":"quantitative","scale":{"domain":[0,35.6]}},"text":{"field":"lab"}}}]},
{"title":{"text":"NL","offset":-1},"width":150,"height":129,"layer":[
{"transform":[{"filter":"datum.c=='NL'"}],"mark":{"type":"square","size":8,"color":"#0000ff","opacity":1},"encoding":{"x":{"field":"o","type":"quantitative","scale":{"domain":[0,49.3]},"axis":{"values":[0,20,40],"title":null}},"y":{"field":"m","type":"quantitative","scale":{"domain":[0,49.3]},"axis":{"values":[0,20,40],"title":"Modelled (μg/m³ )"}}}},
{"data":{"name":"fit"},"transform":[{"filter":"datum.c=='NL'"}],"mark":{"type":"rule","color":"#8c8c8c","strokeWidth":1.2},"encoding":{"x":{"field":"x1","type":"quantitative","scale":{"domain":[0,49.3]}},"y":{"field":"y1","type":"quantitative","scale":{"domain":[0,49.3]}},"x2":{"field":"x2"},"y2":{"field":"y2"}}},
{"data":{"name":"fit"},"transform":[{"filter":"datum.c=='NL'"}],"mark":{"type":"text","align":"left","baseline":"top","dx":7,"dy":4,"fontSize":12.5,"font":"DejaVu Sans","lineHeight":14.7,"color":"#3c3c3c","lineBreak":"\n"},"encoding":{"x":{"datum":0,"type":"quantitative","scale":{"domain":[0,49.3]}},"y":{"datum":49.3,"type":"quantitative","scale":{"domain":[0,49.3]}},"text":{"field":"lab"}}}]},
{"title":"RO","width":150,"height":129,"layer":[
{"transform":[{"filter":"datum.c=='RO'"}],"mark":{"type":"square","size":8,"color":"#0000ff","opacity":1},"encoding":{"x":{"field":"o","type":"quantitative","scale":{"domain":[0,45]},"axis":{"values":[0,20,40],"title":null}},"y":{"field":"m","type":"quantitative","scale":{"domain":[0,45]},"axis":{"values":[0,20,40],"title":null}}}},
{"data":{"name":"fit"},"transform":[{"filter":"datum.c=='RO'"}],"mark":{"type":"rule","color":"#8c8c8c","strokeWidth":1.2},"encoding":{"x":{"field":"x1","type":"quantitative","scale":{"domain":[0,45]}},"y":{"field":"y1","type":"quantitative","scale":{"domain":[0,45]}},"x2":{"field":"x2"},"y2":{"field":"y2"}}},
{"data":{"name":"fit"},"transform":[{"filter":"datum.c=='RO'"}],"mark":{"type":"text","align":"left","baseline":"top","dx":7,"dy":4,"fontSize":12.5,"font":"DejaVu Sans","lineHeight":14.7,"color":"#3c3c3c","lineBreak":"\n"},"encoding":{"x":{"datum":0,"type":"quantitative","scale":{"domain":[0,45]}},"y":{"datum":45,"type":"quantitative","scale":{"domain":[0,45]}},"text":{"field":"lab"}}}]},
{"title":"PL","width":150,"height":129,"layer":[
{"transform":[{"filter":"datum.c=='PL'"}],"mark":{"type":"square","size":8,"color":"#0000ff","opacity":1},"encoding":{"x":{"field":"o","type":"quantitative","scale":{"domain":[0,63]},"axis":{"values":[0,50],"title":null}},"y":{"field":"m","type":"quantitative","scale":{"domain":[0,63]},"axis":{"values":[0,20,40,60],"title":null}}}},
{"data":{"name":"fit"},"transform":[{"filter":"datum.c=='PL'"}],"mark":{"type":"rule","color":"#8c8c8c","strokeWidth":1.2},"encoding":{"x":{"field":"x1","type":"quantitative","scale":{"domain":[0,63]}},"y":{"field":"y1","type":"quantitative","scale":{"domain":[0,63]}},"x2":{"field":"x2"},"y2":{"field":"y2"}}},
{"data":{"name":"fit"},"transform":[{"filter":"datum.c=='PL'"}],"mark":{"type":"text","align":"left","baseline":"top","dx":7,"dy":4,"fontSize":12.5,"font":"DejaVu Sans","lineHeight":14.7,"color":"#3c3c3c","lineBreak":"\n"},"encoding":{"x":{"datum":0,"type":"quantitative","scale":{"domain":[0,63]}},"y":{"datum":63,"type":"quantitative","scale":{"domain":[0,63]}},"text":{"field":"lab"}}}]},
{"title":"PT","width":150,"height":129,"layer":[
{"transform":[{"filter":"datum.c=='PT'"}],"mark":{"type":"square","size":8,"color":"#0000ff","opacity":1},"encoding":{"x":{"field":"o","type":"quantitative","scale":{"domain":[0,64.5]},"axis":{"values":[0,50],"title":null}},"y":{"field":"m","type":"quantitative","scale":{"domain":[0,64.5]},"axis":{"values":[0,20,40,60],"title":null}}}},
{"data":{"name":"fit"},"transform":[{"filter":"datum.c=='PT'"}],"mark":{"type":"rule","color":"#8c8c8c","strokeWidth":1.2},"encoding":{"x":{"field":"x1","type":"quantitative","scale":{"domain":[0,64.5]}},"y":{"field":"y1","type":"quantitative","scale":{"domain":[0,64.5]}},"x2":{"field":"x2"},"y2":{"field":"y2"}}},
{"data":{"name":"fit"},"transform":[{"filter":"datum.c=='PT'"}],"mark":{"type":"text","align":"left","baseline":"top","dx":7,"dy":4,"fontSize":12.5,"font":"DejaVu Sans","lineHeight":14.7,"color":"#3c3c3c","lineBreak":"\n"},"encoding":{"x":{"datum":0,"type":"quantitative","scale":{"domain":[0,64.5]}},"y":{"datum":64.5,"type":"quantitative","scale":{"domain":[0,64.5]}},"text":{"field":"lab"}}}]},
{"title":"SE","width":150,"height":129,"layer":[
{"transform":[{"filter":"datum.c=='SE'"}],"mark":{"type":"square","size":8,"color":"#0000ff","opacity":1},"encoding":{"x":{"field":"o","type":"quantitative","scale":{"domain":[0,57.7]},"axis":{"values":[0,50],"title":null}},"y":{"field":"m","type":"quantitative","scale":{"domain":[0,57.7]},"axis":{"values":[0,20,40],"title":null}}}},
{"data":{"name":"fit"},"transform":[{"filter":"datum.c=='SE'"}],"mark":{"type":"rule","color":"#8c8c8c","strokeWidth":1.2},"encoding":{"x":{"field":"x1","type":"quantitative","scale":{"domain":[0,57.7]}},"y":{"field":"y1","type":"quantitative","scale":{"domain":[0,57.7]}},"x2":{"field":"x2"},"y2":{"field":"y2"}}},
{"data":{"name":"fit"},"transform":[{"filter":"datum.c=='SE'"}],"mark":{"type":"text","align":"left","baseline":"top","dx":7,"dy":4,"fontSize":12.5,"font":"DejaVu Sans","lineHeight":14.7,"color":"#3c3c3c","lineBreak":"\n"},"encoding":{"x":{"datum":0,"type":"quantitative","scale":{"domain":[0,57.7]}},"y":{"datum":57.7,"type":"quantitative","scale":{"domain":[0,57.7]}},"text":{"field":"lab"}}}]},
{"title":{"text":"SI","offset":-1},"width":150,"height":129,"layer":[
{"transform":[{"filter":"datum.c=='SI'"}],"mark":{"type":"square","size":8,"color":"#0000ff","opacity":1},"encoding":{"x":{"field":"o","type":"quantitative","scale":{"domain":[0,38.5]},"axis":{"values":[0,20],"title":"Observed (μg/m³ )"}},"y":{"field":"m","type":"quantitative","scale":{"domain":[0,38.5]},"axis":{"values":[0,10,20,30],"title":"Modelled (μg/m³ )"}}}},
{"data":{"name":"fit"},"transform":[{"filter":"datum.c=='SI'"}],"mark":{"type":"rule","color":"#8c8c8c","strokeWidth":1.2},"encoding":{"x":{"field":"x1","type":"quantitative","scale":{"domain":[0,38.5]}},"y":{"field":"y1","type":"quantitative","scale":{"domain":[0,38.5]}},"x2":{"field":"x2"},"y2":{"field":"y2"}}},
{"data":{"name":"fit"},"transform":[{"filter":"datum.c=='SI'"}],"mark":{"type":"text","align":"left","baseline":"top","dx":7,"dy":4,"fontSize":12.5,"font":"DejaVu Sans","lineHeight":14.7,"color":"#3c3c3c","lineBreak":"\n"},"encoding":{"x":{"datum":0,"type":"quantitative","scale":{"domain":[0,38.5]}},"y":{"datum":38.5,"type":"quantitative","scale":{"domain":[0,38.5]}},"text":{"field":"lab"}}}]},
{"title":"SK","width":150,"height":129,"layer":[
{"transform":[{"filter":"datum.c=='SK'"}],"mark":{"type":"square","size":8,"color":"#0000ff","opacity":1},"encoding":{"x":{"field":"o","type":"quantitative","scale":{"domain":[0,54.6]},"axis":{"values":[0,50],"title":"Observed (μg/m³ )"}},"y":{"field":"m","type":"quantitative","scale":{"domain":[0,54.6]},"axis":{"values":[0,20,40],"title":null}}}},
{"data":{"name":"fit"},"transform":[{"filter":"datum.c=='SK'"}],"mark":{"type":"rule","color":"#8c8c8c","strokeWidth":1.2},"encoding":{"x":{"field":"x1","type":"quantitative","scale":{"domain":[0,54.6]}},"y":{"field":"y1","type":"quantitative","scale":{"domain":[0,54.6]}},"x2":{"field":"x2"},"y2":{"field":"y2"}}},
{"data":{"name":"fit"},"transform":[{"filter":"datum.c=='SK'"}],"mark":{"type":"text","align":"left","baseline":"top","dx":7,"dy":4,"fontSize":12.5,"font":"DejaVu Sans","lineHeight":14.7,"color":"#3c3c3c","lineBreak":"\n"},"encoding":{"x":{"datum":0,"type":"quantitative","scale":{"domain":[0,54.6]}},"y":{"datum":54.6,"type":"quantitative","scale":{"domain":[0,54.6]}},"text":{"field":"lab"}}}]},
{"title":"EU","width":150,"height":129,"layer":[
{"mark":{"type":"square","size":8,"color":"#0000ff","opacity":1},"encoding":{"x":{"field":"o","type":"quantitative","scale":{"domain":[0,91]},"axis":{"values":[0,50],"title":"Observed (μg/m³ )"}},"y":{"field":"m","type":"quantitative","scale":{"domain":[0,91]},"axis":{"values":[0,20,40,60,80],"title":null}}}},
{"data":{"name":"fit"},"transform":[{"filter":"datum.c=='EU'"}],"mark":{"type":"rule","color":"#8c8c8c","strokeWidth":1.2},"encoding":{"x":{"field":"x1","type":"quantitative","scale":{"domain":[0,91]}},"y":{"field":"y1","type":"quantitative","scale":{"domain":[0,91]}},"x2":{"field":"x2"},"y2":{"field":"y2"}}},
{"data":{"name":"fit"},"transform":[{"filter":"datum.c=='EU'"}],"mark":{"type":"text","align":"left","baseline":"top","dx":7,"dy":4,"fontSize":12.5,"font":"DejaVu Sans","lineHeight":14.7,"color":"#3c3c3c","lineBreak":"\n"},"encoding":{"x":{"datum":0,"type":"quantitative","scale":{"domain":[0,91]}},"y":{"datum":91,"type":"quantitative","scale":{"domain":[0,91]}},"text":{"field":"lab"}}}]},
{"width":150,"height":129,"view":{"stroke":null},"data":{"values":[{"t":"NO₂ annual mean\nconcentrations\n2015 EU27"}]},"mark":{"type":"text","align":"left","baseline":"middle","fontSize":37,"lineHeight":44,"color":"#000","font":"Liberation Sans","lineBreak":"\n","dx":-55,"dy":-48},"encoding":{"text":{"field":"t"}}}
],
"config":{
"font":"Liberation Sans",
"view":{"stroke":"#333","strokeWidth":1.3},
"title":{"fontSize":16,"font":"Liberation Sans","fontWeight":"bold","color":"#111","offset":4},
"axis":{"labelFontSize":16,"labelColor":"#555","labelFont":"Liberation Sans","titleFont":"Liberation Sans","titleFontSize":18,"titleFontWeight":"normal","titleColor":"#444","gridColor":"#e0e0e0","domain":false,"ticks":false,"labelFlush":false},
"axisX":{"labelPadding":10,"titlePadding":10},
"axisY":{"labelPadding":8,"titlePadding":8}
}
}
